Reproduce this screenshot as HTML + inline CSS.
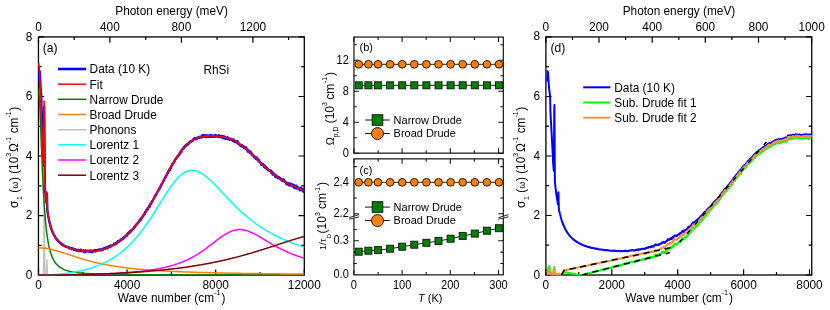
<!DOCTYPE html>
<html><head><meta charset="utf-8"><title>RhSi optical conductivity</title>
<style>
html,body{margin:0;padding:0;background:#fff}
svg{display:block;font-family:"Liberation Sans", sans-serif;will-change:transform}
</style></head><body>
<svg width="830" height="310" viewBox="0 0 830 310">
<rect width="830" height="310" fill="#fff"/>
<path d="M38.5,275.1v-5.7 M82.8,275.1v-3.1 M127.1,275.1v-5.7 M171.4,275.1v-3.1 M215.7,275.1v-5.7 M260,275.1v-3.1 M304.3,275.1v-5.7 M38.5,37v5.7 M74.2,37v3.1 M109.9,37v5.7 M145.7,37v3.1 M181.4,37v5.7 M217.1,37v3.1 M252.9,37v5.7 M288.6,37v3.1 M38.5,275.1h5.7 M304.3,275.1h-5.7 M38.5,245.3h3.1 M304.3,245.3h-3.1 M38.5,215.6h5.7 M304.3,215.6h-5.7 M38.5,185.8h3.1 M304.3,185.8h-3.1 M38.5,156h5.7 M304.3,156h-5.7 M38.5,126.3h3.1 M304.3,126.3h-3.1 M38.5,96.5h5.7 M304.3,96.5h-5.7 M38.5,66.7h3.1 M304.3,66.7h-3.1 M38.5,36.9h5.7 M304.3,36.9h-5.7" stroke="#000" stroke-width="1.2" fill="none"/>
<rect x="38.45" y="36.95" width="265.85" height="238.15" fill="none" stroke="#000" stroke-width="1.3"/>
<clipPath id="ca"><rect x="37.75" y="36.25" width="267.25" height="239.65"/></clipPath>
<g clip-path="url(#ca)" fill="none" stroke-linejoin="round">
<path d="M39.4,81.6L39.5,75.8L39.6,71.2L39.7,71.5L39.8,72.2L40,74.7L40.1,77.2L40.2,79.7L40.3,82.2L40.4,84.7L40.5,87.1L40.6,88.5L40.7,89.8L40.8,91.2L40.9,92.4L41.1,93.7L41.2,95.1L41.3,96.4L41.4,105.1L41.5,112.4L41.6,115.4L41.7,118.3L41.8,121.4L41.9,124.3L42,127.3L42.2,130.3L42.3,133.4L42.4,136.3L42.5,139.3L42.6,142.3L42.7,145.4L42.8,148.3L42.9,151.3L43,154.3L43.2,157.2L43.3,160.3L43.4,163.5L43.5,165.5L43.6,157.6L43.7,147.6L43.8,137.5L43.9,127.4L44,117.3L44.1,107L44.3,115.9L44.4,129.6L44.5,143L44.6,156.5L44.7,170L44.8,183.3L44.9,187.5L45,189L45.1,190.2L45.2,191.5L45.4,192.8L45.5,194L45.6,195.2L45.7,196.3L45.8,197.4L45.9,198.7L46,199.7L46.1,200.8L46.2,201.7L46.3,202.5L46.5,200.3L46.6,198.2L46.7,196L46.8,193.8L46.9,193.6L47,197.4L47.1,201.2L47.2,205.2L47.3,208.9L47.5,211.2L47.6,211.8L47.7,212.6L47.8,213.4L47.9,214.1L48,214.7L48.1,215.2L48.2,216L48.3,216.6L48.4,217.1L48.6,217.8L48.7,218.3L48.8,219L48.9,219.4L49,220L49.1,220.3L49.2,220.9L49.3,221.5L49.4,221.9L49.5,222.4L49.7,222.7L49.8,223.3L49.9,223.7L50,224.3L50.1,224.6L50.2,225.2L50.3,225.6L50.4,225.8L50.5,226.3L50.6,226.5L50.8,226.7L50.9,227.4L51,227.7L51.1,227.9L51.2,228.2L51.3,228.7L51.4,229L51.5,229.2L51.6,229.5L51.8,230L51.9,230.2L52,230.5L52.1,230.9L52.2,231L52.3,231.4L52.4,231.5L52.5,231.8L52.6,232.1L52.7,232.5L52.9,232.6L53,233.2L53.1,233.3L53.2,233.3L53.3,233.9L53.4,233.7L53.5,234.3L53.6,234.2L53.7,234.6L53.8,234.6L54,234.9L54.2,235.6L54.5,235.7L54.8,236.1L55,236.8L55.3,237.2L55.5,237.6L55.8,238.1L56.1,238.1L56.3,238.8L56.6,239L56.9,239.5L57.1,239.8L57.4,240.2L57.6,240.1L57.9,240.6L58.2,240.7L58.4,241.2L58.7,241.6L59,241.8L59.2,242.1L59.5,242.2L59.8,242.5L60,242.7L60.3,243.2L60.5,243.3L60.8,243L61.1,243.7L61.3,243.9L61.6,243.8L61.9,243.8L62.1,244.6L62.4,244.5L62.7,244.8L62.9,245.2L63.2,244.8L63.4,245.2L63.7,245.3L64,245.6L64.2,245.5L64.5,245.9L64.8,245.9L65,246.3L65.3,246.5L65.6,246L65.8,246.6L66.1,246.5L66.3,246.7L66.6,247L66.9,247.1L67.1,246.9L67.4,247.3L67.7,247.3L67.9,247.4L68.2,247.2L68.5,247.4L68.7,247.6L69,248L69.2,248.3L69.5,247.7L69.8,247.8L70,248.2L70.3,248.1L70.6,248.1L70.8,248.2L71.1,248.2L71.4,248.7L71.6,248.2L71.9,249.2L72.1,248.6L72.4,248.8L72.7,248.7L72.9,248.4L73.2,248.6L73.5,249.6L73.7,249.8L74,249L74.3,249.7L74.5,249.4L74.8,249.2L75,250.1L75.3,250.3L75.6,249.6L75.8,249.7L76.1,249.9L76.4,249.8L76.6,250.2L76.9,250.5L77.1,250L77.4,250.4L77.7,250.7L77.9,249.9L78.2,250.2L78.5,250.1L78.7,250.6L79,250.5L79.3,250.7L79.5,250.7L79.8,250.3L80,250.7L80.3,250.3L80.6,250.4L80.8,249.7L81.1,251.1L81.4,250.3L81.6,250.7L81.9,250.7L82.2,251.3L82.4,250.9L82.7,250.5L82.9,250.8L83.2,250.8L83.5,251L83.7,250.4L84,250.9L84.3,251.8L84.5,251.2L84.8,251.8L85.1,252.3L85.3,251.2L85.6,250.5L85.8,251L86.1,251.5L86.4,251.5L86.6,250.6L86.9,251L87.2,251.1L87.4,251.1L87.7,251.1L88,250.8L88.2,250.9L88.5,251L88.7,251.6L89,250.9L89.3,251.4L89.5,250.7L89.8,251.7L90.1,251.2L90.3,251.1L90.6,251.7L90.9,250.4L91.1,250.5L91.4,251.3L91.6,250.8L91.9,250.9L92.2,252.2L92.4,251L92.7,251.1L93,251L93.2,251.5L93.5,251.1L93.8,251L94,250.4L94.3,250.8L94.5,250.9L94.8,250.2L95.1,251.1L95.3,251L95.6,251.5L95.9,250.1L96.1,250.3L96.4,250.3L96.6,250.3L96.9,250.5L97.2,250.4L97.4,250.6L97.7,250.5L98,250.4L98.2,249.7L98.5,250.1L98.8,250.3L99,250.4L99.3,250.4L99.5,249.4L99.8,249.8L100.1,249.9L100.3,250L100.6,250.3L100.9,249.8L101.1,249.3L101.4,249.8L101.7,249.6L101.9,249.6L102.2,249.4L102.4,250L102.7,249.4L103,249.5L103.2,248.7L103.5,249.3L103.8,248.7L104,248.2L104.3,248.9L104.6,248.9L104.8,248.5L105.1,248.5L105.3,248.8L105.6,248.1L105.9,247.4L106.1,248.2L106.4,248.1L106.7,248.3L106.9,247.7L107.2,248.2L107.5,248.1L107.7,247L108,247.8L108.2,246.8L108.5,246.5L108.8,246.9L109,246.7L109.3,246L109.6,246.8L109.8,246.8L110.1,247L110.4,246.3L110.6,245.6L110.9,245.7L111.1,246.3L111.4,246.2L111.7,245.9L111.9,245.4L112.2,245.5L112.5,245.2L112.7,245L113,245.1L113.3,244.9L113.5,244.6L113.8,244.6L114,244.2L114.3,243.5L114.6,243.9L114.8,243.9L115.1,244.5L115.4,243.5L115.6,244.3L115.9,243.9L116.1,242.8L116.4,242.7L116.7,242.9L116.9,243.4L117.2,242.7L117.5,242.6L117.7,241.9L118,241L118.3,241.7L118.5,242L118.8,241.9L119,241.3L119.3,241.2L119.6,241.4L119.8,240.7L120.1,241L120.4,239.9L120.6,239.7L120.9,239.5L121.2,239.9L121.4,239.3L121.7,239.4L121.9,239.3L122.2,239.1L122.5,239.3L122.7,239.1L123,238L123.3,238.2L123.5,237.8L123.8,237.2L124.1,238.2L124.3,237.5L124.6,236.9L124.8,236.6L125.1,236.7L125.4,235.9L125.6,236L125.9,236.3L126.2,236L126.4,235L126.7,234.9L127,235.7L127.2,234.1L127.5,234.1L127.7,233.6L128,234L128.3,233.8L128.5,233.8L128.8,232.1L129.1,232.9L129.3,231.9L129.6,232.6L129.9,232L130.1,232.5L130.4,231.7L130.6,230.8L130.9,231.5L131.2,230.3L131.4,230.3L131.7,230.6L132,230.1L132.2,229.8L132.5,229.3L132.8,229.2L133,229L133.3,228.5L133.5,228.5L133.8,228.3L134.1,227.5L134.3,226.8L134.6,227.5L134.9,226.6L135.1,226.5L135.4,226.4L135.7,225.3L135.9,225.5L136.2,224.4L136.4,225L136.7,224.2L137,224.1L137.2,224L137.5,223.1L137.8,223.1L138,222.4L138.3,222.4L138.5,222.5L138.8,221.7L139.1,221.3L139.3,220.6L139.6,221L139.9,220.3L140.1,220.6L140.4,219.3L140.7,219.6L140.9,219.6L141.2,218.5L141.4,217.6L141.7,218.4L142,217.8L142.2,217.3L142.5,217.1L142.8,216.1L143,216.2L143.3,215.8L143.6,214.8L143.8,215L144.1,214.1L144.3,214.3L144.6,214L144.9,213.9L145.1,211.9L145.4,212.4L145.7,211.8L145.9,211.5L146.2,211L146.5,210.7L146.7,209.5L147,210.3L147.2,210.1L147.5,209.4L147.8,209.2L148,207.9L148.3,207.4L148.6,207.7L148.8,207.5L149.1,206.6L149.4,205.5L149.6,206.8L149.9,204.9L150.1,205.2L150.4,203.8L150.7,204.3L150.9,203.5L151.2,203.6L151.5,202.9L151.7,201.5L152,201.3L152.3,201.3L152.5,201.1L152.8,201L153,199.9L153.3,199.3L153.6,198.9L153.8,198.4L154.1,198.4L154.4,197.5L154.6,197L154.9,196L155.2,195.3L155.4,195.6L155.7,195.4L155.9,194.7L156.2,194.4L156.5,194L156.7,193.2L157,193.2L157.3,192L157.5,191.8L157.8,191.2L158,190.9L158.3,190.6L158.6,190.2L158.8,189.5L159.1,189.1L159.4,188.3L159.6,187.9L159.9,188L160.2,186.9L160.4,187L160.7,186.2L160.9,185.6L161.2,185.8L161.5,184.4L161.7,183.9L162,183.6L162.3,183.2L162.5,182.7L162.8,182.4L163.1,181.6L163.3,181.3L163.6,180.5L163.8,180.6L164.1,179.5L164.4,179L164.6,178.6L164.9,178.3L165.2,177.4L165.4,177.8L165.7,176.4L166,176L166.2,175.5L166.5,175L166.7,175L167,174.3L167.3,173.5L167.5,173.1L167.8,172.7L168.1,172.9L168.3,171.6L168.6,170.8L168.9,170.4L169.1,170.3L169.4,170.6L169.6,169L169.9,169L170.2,169.6L170.4,167.9L170.7,168.2L171,167.7L171.2,166.9L171.5,165.7L171.8,165.9L172,165.2L172.3,164.1L172.5,163.7L172.8,164L173.1,163.6L173.3,163.6L173.6,162.9L173.9,162L174.1,161.6L174.4,161.3L174.7,160.5L174.9,160.8L175.2,160.1L175.4,159.3L175.7,159L176,158.3L176.2,158.2L176.5,158.1L176.8,157.4L177,157.6L177.3,157.5L177.5,156.1L177.8,156L178.1,155.5L178.3,156L178.6,155L178.9,154.7L179.1,154.5L179.4,154.7L179.7,153.5L179.9,152.6L180.2,152.5L180.4,152.5L180.7,151.9L181,151.3L181.2,152.4L181.5,151L181.8,150.3L182,149.9L182.3,149.2L182.6,149.1L182.8,149.1L183.1,148.8L183.3,148.3L183.6,148.6L183.9,148L184.1,147.3L184.4,146.6L184.7,147.2L184.9,146.9L185.2,146.5L185.5,145.7L185.7,146L186,145.1L186.2,145.9L186.5,145.3L186.8,145.1L187,144.4L187.3,144L187.6,144.9L187.8,144.4L188.1,143.6L188.4,143.8L188.6,144L188.9,142.6L189.1,142.6L189.4,142.4L189.7,142.6L189.9,141.8L190.2,142.1L190.5,141.3L190.7,142L191,141.8L191.3,141.2L191.5,141.4L191.8,140.6L192,140.6L192.3,141L192.6,140.3L192.8,140.4L193.1,139.6L193.4,140.2L193.6,139.9L193.9,139L194.2,138.4L194.4,138.4L194.7,139.1L194.9,138.9L195.2,138.2L195.5,138.8L195.7,139.1L196,138.5L196.3,138.2L196.5,138.7L196.8,139L197,138.8L197.3,137.7L197.6,138.2L197.8,137.9L198.1,137.6L198.4,137.3L198.6,137.7L198.9,137.2L199.2,137.8L199.4,137.4L199.7,137.7L199.9,136.6L200.2,137.1L200.5,137.3L200.7,137.1L201,137L201.3,136.5L201.5,137.5L201.8,137.2L202.1,136.8L202.3,135.3L202.6,136.1L202.8,136.5L203.1,136.1L203.4,135.4L203.6,136.4L203.9,136.5L204.2,135.7L204.4,136L204.7,135.9L205,136.4L205.2,135.2L205.5,135.3L205.7,135.8L206,135.7L206.3,137L206.5,135.7L206.8,136.1L207.1,135.8L207.3,135.6L207.6,136.1L207.9,136.8L208.1,135.7L208.4,136.3L208.6,136.1L208.9,136.2L209.2,136L209.4,137L209.7,135.3L210,135.7L210.2,135.3L210.5,134.9L210.8,135.9L211,136.8L211.3,136.3L211.5,136.5L211.8,136.1L212.1,135.8L212.3,136.9L212.6,135.7L212.9,136.7L213.1,135.8L213.4,136L213.7,136.1L213.9,136L214.2,136.2L214.4,136.3L214.7,136.8L215,136L215.2,135.1L215.5,135L215.8,135.4L216,135.7L216.3,136.5L216.5,135.4L216.8,136.2L217.1,136.2L217.3,136.4L217.6,136.2L217.9,136.5L218.1,136.3L218.4,136.9L218.7,136.5L218.9,135.2L219.2,136.5L219.4,136.6L219.7,136.2L220,136.2L220.2,137.1L220.5,136.7L220.8,136.2L221,136.5L221.3,136.7L221.6,136L221.8,137.2L222.1,136.8L222.3,137.2L222.6,136.2L222.9,138L223.1,137.4L223.4,137.4L223.7,136.8L223.9,136.9L224.2,136.5L224.5,138.2L224.7,137L225,137.6L225.2,137.9L225.5,137.3L225.8,138.1L226,138.8L226.3,138L226.6,138.6L226.8,138.3L227.1,137.8L227.4,137.9L227.6,137.3L227.9,138.3L228.1,139.1L228.4,138.8L228.7,139L228.9,139.2L229.2,138.4L229.5,139.1L229.7,139.9L230,138.6L230.3,139.1L230.5,138.9L230.8,139.2L231,139L231.3,139.4L231.6,138.9L231.8,139.4L232.1,139.6L232.4,139.7L232.6,140.8L232.9,140.2L233.2,140.4L233.4,140.3L233.7,141.2L233.9,139.7L234.2,140.7L234.5,141.6L234.7,142L235,141.3L235.3,141.3L235.5,141.8L235.8,141.5L236,142.1L236.3,141.6L236.6,142.4L236.8,142.2L237.1,141.8L237.4,141.1L237.6,143.2L237.9,143.1L238.2,143.5L238.4,142.7L238.7,144L238.9,143.8L239.2,143.7L239.5,144.4L239.7,144.6L240,144.5L240.3,145.6L240.5,145.4L240.8,145L241.1,144.9L241.3,145.3L241.6,146.4L241.8,145.8L242.1,145.3L242.4,145.6L242.6,146.2L242.9,146.9L243.2,146.2L243.4,147.1L243.7,147.7L244,147.7L244.2,146.6L244.5,147.5L244.7,147.2L245,148.3L245.3,147.8L245.5,148.9L245.8,148.8L246.1,147.5L246.3,148.7L246.6,149.7L246.9,149.7L247.1,149.7L247.4,149.4L247.6,150.6L247.9,151.6L248.2,151L248.4,151.1L248.7,151.2L249,150.8L249.2,151.6L249.5,151.6L249.8,152.9L250,152L250.3,151.5L250.5,152.6L250.8,153.1L251.1,153.4L251.3,152.7L251.6,154.6L251.9,154.3L252.1,154.2L252.4,154.3L252.7,155.3L252.9,155.1L253.2,155.7L253.4,155.7L253.7,156.1L254,157L254.2,156.6L254.5,156.3L254.8,157.6L255,157.5L255.3,157.2L255.5,158.5L255.8,158L256.1,159L256.3,157.9L256.6,157.5L256.9,157.9L257.1,159.5L257.4,159.2L257.7,159.8L257.9,160.1L258.2,159.4L258.4,161.4L258.7,160.3L259,161.2L259.2,160.5L259.5,161.5L259.8,162.3L260,162L260.3,162L260.6,162.6L260.8,162.6L261.1,163.5L261.3,164.7L261.6,163.1L261.9,163.5L262.1,164.1L262.4,164.4L262.7,164L262.9,165.2L263.2,165.6L263.5,165.5L263.7,164.9L264,166.8L264.2,165.4L264.5,166.8L264.8,167.3L265,166.1L265.3,167.2L265.6,168.1L265.8,167.8L266.1,167.2L266.4,167.3L266.6,168.5L266.9,168.3L267.1,168.3L267.4,169.4L267.7,169L267.9,169.5L268.2,170L268.5,170.2L268.7,170.1L269,170.3L269.3,170.9L269.5,171.1L269.8,170.3L270,171.1L270.3,170.9L270.6,170.9L270.8,171.5L271.1,170.7L271.4,172.8L271.6,172L271.9,172.9L272.2,171.8L272.4,172.1L272.7,174.6L272.9,174.2L273.2,173.4L273.5,173.5L273.7,173.7L274,174.4L274.3,174.3L274.5,174.4L274.8,175L275,174.5L275.3,176.9L275.6,175.2L275.8,176.5L276.1,175.4L276.4,176.3L276.6,176.9L276.9,176.3L277.2,177.3L277.4,177.5L277.7,178.1L277.9,177.3L278.2,177.1L278.5,177L278.7,177.9L279,177.3L279.3,178.2L279.5,178.4L279.8,178.2L280.1,178L280.3,179.1L280.6,179.2L280.8,179.3L281.1,179.3L281.4,180.2L281.6,179.1L281.9,180.2L282.2,179.8L282.4,180.8L282.7,180.2L283,180.3L283.2,181L283.5,179.5L283.7,180.8L284,180L284.3,180.7L284.5,181.9L284.8,181.9L285.1,181.5L285.3,181.9L285.6,182.1L285.9,182.4L286.1,183.6L286.4,182.7L286.6,184.2L286.9,182.6L287.2,183.5L287.4,183.6L287.7,183.4L288,183.2L288.2,184.5L288.5,184.9L288.8,184.5L289,185.3L289.3,184.7L289.5,183.1L289.8,185.1L290.1,184L290.3,185.5L290.6,184.5L290.9,185.1L291.1,185L291.4,184.7L291.7,184.1L291.9,185.2L292.2,185.4L292.4,186.3L292.7,185.3L293,186L293.2,185.4L293.5,186.1L293.8,185L294,187.7L294.3,186.7L294.5,186L294.8,186.9L295.1,187.4L295.3,187.1L295.6,188L295.9,187.1L296.1,185.6L296.4,186.6L296.7,188.3L296.9,188.2L297.2,188L297.4,187.1L297.7,188.5L298,188.5L298.2,187.5L298.5,187.6L298.8,188.6L299,189.2L299.3,189.6L299.6,189.1L299.8,190.3L300.1,188.3L300.3,189.4L300.6,188.7L300.9,187.8L301.1,188.4L301.4,190.1L301.7,188.8L301.9,188.7L302.2,190.1L302.5,190.4L302.7,189.9L303,191L303.2,188.9L303.5,191.8L303.8,191L304,190.5L304.3,190.5" stroke="#0000ff" stroke-width="2.4"/>
<path d="M38.5,275.1L38.6,275.1L38.7,275.1L38.8,275.1L38.9,275.1L39,275.1L39.1,275.1L39.2,275.1L39.3,275.1L39.4,275.1L39.6,275.1L39.7,275.1L39.8,275.1L39.9,275.1L40,275.1L40.1,275.1L40.2,275.1L40.3,275.1L40.4,275.1L40.6,275.1L40.7,275.1L40.8,275.1L40.9,275.1L41,275.1L41.1,275.1L41.2,275.1L41.3,275.1L41.4,275.1L41.6,275.1L41.7,275.1L41.8,275.1L41.9,275.1L42,275.1L42.1,275.1L42.2,275.1L42.3,275.1L42.4,275.1L42.5,275.1L42.7,275.1L42.8,275.1L42.9,275.1L43,275.1L43.1,275.1L43.2,275.1L43.3,275.1L43.4,275.1L43.5,269.9L43.7,257L43.8,244.1L43.9,231.2L44,218.3L44.1,205.4L44.2,197.7L44.2,202.9L44.3,215.8L44.4,228.7L44.5,241.6L44.7,254.5L44.8,267.4L44.9,275.1L45,275.1L45.1,275.1L45.2,275.1L45.3,275.1L45.4,275.1L45.5,275.1L45.7,275.1L45.8,275.1L45.9,275.1L46,275.1L46.1,275.1L46.2,275.1L46.3,275.1L46.4,272.5L46.5,269.2L46.6,265.9L46.8,262.6L46.9,259.3L47,262.6L47.1,265.9L47.2,269.2L47.3,272.5L47.4,275.1L47.5,275.1L47.6,275.1L47.8,275.1L47.9,275.1L48,275.1L48.1,275.1L48.2,275.1L48.3,275.1L48.4,275.1L48.5,275.1L48.6,275.1L48.8,275.1L48.9,275.1L49,275.1L49.1,275.1L49.2,275.1L49.3,275.1L49.4,275.1L49.5,275.1L49.6,275.1L49.7,275.1L49.9,275.1L50,275.1L50.1,275.1L50.2,275.1L50.3,275.1L50.4,275.1L50.5,275.1L50.6,275.1L50.7,275.1L50.9,275.1L51,275.1L51.1,275.1L51.2,275.1L51.3,275.1L51.4,275.1L51.5,275.1L51.6,275.1L51.7,275.1L51.9,275.1L52,275.1L52.1,275.1L52.2,275.1L52.3,275.1L52.4,275.1L52.5,275.1L52.6,275.1L52.7,275.1L52.9,275.1L53,275.1L53.1,275.1L53.2,275.1L53.3,275.1L53.4,275.1L53.5,275.1L53.6,275.1L53.7,275.1L53.8,275.1L54,275.1L54.4,275.1L55,275.1L55.7,275.1" stroke="#c0c0c0" stroke-width="1.3"/>
<path d="M38.5,90.2L38.6,90.3L38.7,90.6L38.8,91.2L38.9,91.9L39,92.9L39.1,94.1L39.2,95.5L39.3,97L39.4,98.8L39.6,100.7L39.7,102.7L39.8,104.9L39.9,107.2L40,109.7L40.1,112.2L40.2,114.8L40.3,117.5L40.4,120.3L40.6,123.1L40.7,126L40.8,128.9L40.9,131.8L41,134.8L41.1,137.7L41.2,140.7L41.3,143.6L41.4,146.5L41.6,149.4L41.7,152.2L41.8,155.1L41.9,157.9L42,160.6L42.1,163.3L42.2,166L42.3,168.6L42.4,171.1L42.5,173.6L42.7,176.1L42.8,178.5L42.9,180.8L43,183.1L43.1,185.3L43.2,187.5L43.3,189.6L43.4,191.7L43.5,193.7L43.7,195.6L43.8,197.5L43.9,199.4L44,201.2L44.1,202.9L44.2,204L44.2,204.6L44.3,206.3L44.4,207.9L44.5,209.5L44.7,211L44.8,212.5L44.9,213.9L45,215.3L45.1,216.6L45.2,217.9L45.3,219.2L45.4,220.5L45.5,221.7L45.7,222.8L45.8,224L45.9,225.1L46,226.1L46.1,227.2L46.2,228.2L46.3,229.2L46.4,230.2L46.5,231.1L46.6,232L46.8,232.9L46.9,233.7L47,234.6L47.1,235.4L47.2,236.2L47.3,236.9L47.4,237.7L47.5,238.4L47.6,239.1L47.8,239.8L47.9,240.5L48,241.1L48.1,241.8L48.2,242.4L48.3,243L48.4,243.6L48.5,244.1L48.6,244.7L48.8,245.3L48.9,245.8L49,246.3L49.1,246.8L49.2,247.3L49.3,247.8L49.4,248.3L49.5,248.7L49.6,249.2L49.7,249.6L49.9,250L50,250.4L50.1,250.8L50.2,251.2L50.3,251.6L50.4,252L50.5,252.4L50.6,252.7L50.7,253.1L50.9,253.4L51,253.8L51.1,254.1L51.2,254.4L51.3,254.7L51.4,255.1L51.5,255.4L51.6,255.6L51.7,255.9L51.9,256.2L52,256.5L52.1,256.8L52.2,257L52.3,257.3L52.4,257.6L52.5,257.8L52.6,258L52.7,258.3L52.9,258.5L53,258.7L53.1,259L53.2,259.2L53.3,259.4L53.4,259.6L53.5,259.8L53.6,260L53.7,260.2L53.8,260.4L54,260.6L54.4,261.4L55,262.3L55.7,263.2L56.3,263.9L56.9,264.6L57.5,265.3L58.2,265.9L58.8,266.4L59.4,266.9L60,267.3L60.7,267.7L61.3,268.1L61.9,268.5L62.5,268.8L63.2,269.1L63.8,269.4L64.4,269.7L65,269.9L65.7,270.1L66.3,270.4L66.9,270.6L67.6,270.7L68.2,270.9L68.8,271.1L69.4,271.2L70.1,271.4L70.7,271.5L71.3,271.7L71.9,271.8L72.6,271.9L73.2,272L73.8,272.1L74.4,272.2L75.1,272.3L75.7,272.4L76.3,272.5L76.9,272.6L77.6,272.7L78.2,272.7L78.8,272.8L79.5,272.9L80.1,272.9L80.7,273L81.3,273.1L82,273.1L82.6,273.2L83.2,273.2L83.8,273.3L84.5,273.3L85.1,273.4L85.7,273.4L86.3,273.5L87,273.5L87.6,273.5L88.2,273.6L88.8,273.6L89.5,273.7L90.1,273.7L90.7,273.7L91.4,273.8L92,273.8L92.6,273.8L93.2,273.8L93.9,273.9L94.5,273.9L95.1,273.9L95.7,274L96.4,274L97,274L97.6,274L98.2,274L98.9,274.1L99.5,274.1L100.1,274.1L100.7,274.1L101.4,274.2L102,274.2L102.6,274.2L103.3,274.2L103.9,274.2L104.5,274.2L105.1,274.3L105.8,274.3L106.4,274.3L107,274.3L107.6,274.3L108.3,274.3L108.9,274.3L109.5,274.4L110.1,274.4L110.8,274.4L111.4,274.4L112,274.4L112.6,274.4L113.3,274.4L113.9,274.4L114.5,274.4L115.2,274.5L115.8,274.5L116.4,274.5L117,274.5L117.7,274.5L118.3,274.5L118.9,274.5L119.5,274.5L120.2,274.5L120.8,274.5L121.4,274.6L122,274.6L122.7,274.6L123.3,274.6L123.9,274.6L124.5,274.6L125.2,274.6L125.8,274.6L126.4,274.6L127.1,274.6L127.7,274.6L128.3,274.6L128.9,274.6L129.6,274.6L130.2,274.7L130.8,274.7L131.4,274.7L132.1,274.7L132.7,274.7L133.3,274.7L133.9,274.7L134.6,274.7L135.2,274.7L135.8,274.7L136.4,274.7L137.1,274.7L137.7,274.7L138.3,274.7L139,274.7L139.6,274.7L140.2,274.7L140.8,274.7L141.5,274.7L142.1,274.7L142.7,274.8L143.3,274.8L144,274.8L144.6,274.8L145.2,274.8L145.8,274.8L146.5,274.8L147.1,274.8L147.7,274.8L148.3,274.8L149,274.8L149.6,274.8L150.2,274.8L150.9,274.8L151.5,274.8L152.1,274.8L152.7,274.8L153.4,274.8L154,274.8L154.6,274.8L155.2,274.8L155.9,274.8L156.5,274.8L157.1,274.8L157.7,274.8L158.4,274.8L159,274.8L159.6,274.8L160.2,274.8L160.9,274.8L161.5,274.9L162.1,274.9L162.8,274.9L163.4,274.9L164,274.9L164.6,274.9L165.3,274.9L165.9,274.9L166.5,274.9L167.1,274.9L167.8,274.9L168.4,274.9L169,274.9L169.6,274.9L170.3,274.9L170.9,274.9L171.5,274.9L172.1,274.9L172.8,274.9L173.4,274.9L174,274.9L174.7,274.9L175.3,274.9L175.9,274.9L176.5,274.9L177.2,274.9L177.8,274.9L178.4,274.9L179,274.9L179.7,274.9L180.3,274.9L180.9,274.9L181.5,274.9L182.2,274.9L182.8,274.9L183.4,274.9L184,274.9L184.7,274.9L185.3,274.9L185.9,274.9L186.6,274.9L187.2,274.9L187.8,274.9L188.4,274.9L189.1,274.9L189.7,274.9L190.3,274.9L190.9,274.9L191.6,274.9L192.2,274.9L192.8,274.9L193.4,274.9L194.1,274.9L194.7,274.9L195.3,274.9L195.9,274.9L196.6,274.9L197.2,275L197.8,275L198.5,275L199.1,275L199.7,275L200.3,275L201,275L201.6,275L202.2,275L202.8,275L203.5,275L204.1,275L204.7,275L205.3,275L206,275L206.6,275L207.2,275L207.8,275L208.5,275L209.1,275L209.7,275L210.4,275L211,275L211.6,275L212.2,275L212.9,275L213.5,275L214.1,275L214.7,275L215.4,275L216,275L216.6,275L217.2,275L217.9,275L218.5,275L219.1,275L219.7,275L220.4,275L221,275L221.6,275L222.3,275L222.9,275L223.5,275L224.1,275L224.8,275L225.4,275L226,275L226.6,275L227.3,275L227.9,275L228.5,275L229.1,275L229.8,275L230.4,275L231,275L231.6,275L232.3,275L232.9,275L233.5,275L234.2,275L234.8,275L235.4,275L236,275L236.7,275L237.3,275L237.9,275L238.5,275L239.2,275L239.8,275L240.4,275L241,275L241.7,275L242.3,275L242.9,275L243.5,275L244.2,275L244.8,275L245.4,275L246.1,275L246.7,275L247.3,275L247.9,275L248.6,275L249.2,275L249.8,275L250.4,275L251.1,275L251.7,275L252.3,275L252.9,275L253.6,275L254.2,275L254.8,275L255.4,275L256.1,275L256.7,275L257.3,275L258,275L258.6,275L259.2,275L259.8,275L260.5,275L261.1,275L261.7,275L262.3,275L263,275L263.6,275L264.2,275L264.8,275L265.5,275L266.1,275L266.7,275L267.3,275L268,275L268.6,275L269.2,275L269.9,275L270.5,275L271.1,275L271.7,275L272.4,275L273,275L273.6,275L274.2,275L274.9,275L275.5,275L276.1,275L276.7,275L277.4,275L278,275L278.6,275L279.2,275L279.9,275L280.5,275L281.1,275L281.8,275L282.4,275L283,275L283.6,275L284.3,275L284.9,275L285.5,275L286.1,275L286.8,275L287.4,275L288,275L288.6,275L289.3,275L289.9,275L290.5,275L291.1,275L291.8,275L292.4,275L293,275L293.7,275L294.3,275L294.9,275L295.5,275L296.2,275L296.8,275L297.4,275L298,275L298.7,275L299.3,275L299.9,275L300.5,275L301.2,275L301.8,275L302.4,275L303,275L303.7,275L304.3,275" stroke="#008000" stroke-width="1.5"/>
<path d="M38.5,247.9L38.6,247.9L38.7,247.9L38.8,247.9L38.9,247.9L39,247.9L39.1,247.9L39.2,247.9L39.3,247.9L39.4,247.9L39.6,247.9L39.7,247.9L39.8,247.9L39.9,247.9L40,247.9L40.1,247.9L40.2,247.9L40.3,247.9L40.4,247.9L40.6,247.9L40.7,248L40.8,248L40.9,248L41,248L41.1,248L41.2,248L41.3,248L41.4,248L41.6,248L41.7,248L41.8,248L41.9,248L42,248L42.1,248L42.2,248L42.3,248L42.4,248.1L42.5,248.1L42.7,248.1L42.8,248.1L42.9,248.1L43,248.1L43.1,248.1L43.2,248.1L43.3,248.1L43.4,248.1L43.5,248.2L43.7,248.2L43.8,248.2L43.9,248.2L44,248.2L44.1,248.2L44.2,248.2L44.3,248.2L44.4,248.2L44.5,248.3L44.7,248.3L44.8,248.3L44.9,248.3L45,248.3L45.1,248.3L45.2,248.3L45.3,248.3L45.4,248.4L45.5,248.4L45.7,248.4L45.8,248.4L45.9,248.4L46,248.4L46.1,248.5L46.2,248.5L46.3,248.5L46.4,248.5L46.5,248.5L46.6,248.5L46.8,248.6L46.9,248.6L47,248.6L47.1,248.6L47.2,248.6L47.3,248.6L47.4,248.7L47.5,248.7L47.6,248.7L47.8,248.7L47.9,248.7L48,248.7L48.1,248.8L48.2,248.8L48.3,248.8L48.4,248.8L48.5,248.8L48.6,248.9L48.8,248.9L48.9,248.9L49,248.9L49.1,248.9L49.2,249L49.3,249L49.4,249L49.5,249L49.6,249.1L49.7,249.1L49.9,249.1L50,249.1L50.1,249.1L50.2,249.2L50.3,249.2L50.4,249.2L50.5,249.2L50.6,249.3L50.7,249.3L50.9,249.3L51,249.3L51.1,249.4L51.2,249.4L51.3,249.4L51.4,249.4L51.5,249.5L51.6,249.5L51.7,249.5L51.9,249.5L52,249.6L52.1,249.6L52.2,249.6L52.3,249.6L52.4,249.7L52.5,249.7L52.6,249.7L52.7,249.7L52.9,249.8L53,249.8L53.1,249.8L53.2,249.8L53.3,249.9L53.4,249.9L53.5,249.9L53.6,250L53.7,250L53.8,250L54,250L54.4,250.1L55,250.3L55.7,250.5L56.3,250.7L56.9,250.8L57.5,251L58.2,251.2L58.8,251.4L59.4,251.6L60,251.8L60.7,251.9L61.3,252.1L61.9,252.3L62.5,252.5L63.2,252.7L63.8,252.9L64.4,253.1L65,253.3L65.7,253.6L66.3,253.8L66.9,254L67.6,254.2L68.2,254.4L68.8,254.6L69.4,254.8L70.1,255L70.7,255.2L71.3,255.4L71.9,255.6L72.6,255.8L73.2,256L73.8,256.2L74.4,256.4L75.1,256.7L75.7,256.9L76.3,257.1L76.9,257.3L77.6,257.5L78.2,257.7L78.8,257.9L79.5,258L80.1,258.2L80.7,258.4L81.3,258.6L82,258.8L82.6,259L83.2,259.2L83.8,259.4L84.5,259.5L85.1,259.7L85.7,259.9L86.3,260.1L87,260.3L87.6,260.4L88.2,260.6L88.8,260.8L89.5,260.9L90.1,261.1L90.7,261.3L91.4,261.4L92,261.6L92.6,261.8L93.2,261.9L93.9,262.1L94.5,262.2L95.1,262.4L95.7,262.5L96.4,262.7L97,262.8L97.6,262.9L98.2,263.1L98.9,263.2L99.5,263.4L100.1,263.5L100.7,263.6L101.4,263.8L102,263.9L102.6,264L103.3,264.2L103.9,264.3L104.5,264.4L105.1,264.5L105.8,264.6L106.4,264.8L107,264.9L107.6,265L108.3,265.1L108.9,265.2L109.5,265.3L110.1,265.4L110.8,265.6L111.4,265.7L112,265.8L112.6,265.9L113.3,266L113.9,266.1L114.5,266.2L115.2,266.3L115.8,266.4L116.4,266.5L117,266.6L117.7,266.7L118.3,266.7L118.9,266.8L119.5,266.9L120.2,267L120.8,267.1L121.4,267.2L122,267.3L122.7,267.3L123.3,267.4L123.9,267.5L124.5,267.6L125.2,267.7L125.8,267.7L126.4,267.8L127.1,267.9L127.7,268L128.3,268L128.9,268.1L129.6,268.2L130.2,268.3L130.8,268.3L131.4,268.4L132.1,268.5L132.7,268.5L133.3,268.6L133.9,268.7L134.6,268.7L135.2,268.8L135.8,268.9L136.4,268.9L137.1,269L137.7,269L138.3,269.1L139,269.2L139.6,269.2L140.2,269.3L140.8,269.3L141.5,269.4L142.1,269.4L142.7,269.5L143.3,269.5L144,269.6L144.6,269.6L145.2,269.7L145.8,269.7L146.5,269.8L147.1,269.8L147.7,269.9L148.3,269.9L149,270L149.6,270L150.2,270.1L150.9,270.1L151.5,270.2L152.1,270.2L152.7,270.3L153.4,270.3L154,270.3L154.6,270.4L155.2,270.4L155.9,270.5L156.5,270.5L157.1,270.6L157.7,270.6L158.4,270.6L159,270.7L159.6,270.7L160.2,270.7L160.9,270.8L161.5,270.8L162.1,270.9L162.8,270.9L163.4,270.9L164,271L164.6,271L165.3,271L165.9,271.1L166.5,271.1L167.1,271.1L167.8,271.2L168.4,271.2L169,271.2L169.6,271.3L170.3,271.3L170.9,271.3L171.5,271.4L172.1,271.4L172.8,271.4L173.4,271.4L174,271.5L174.7,271.5L175.3,271.5L175.9,271.6L176.5,271.6L177.2,271.6L177.8,271.6L178.4,271.7L179,271.7L179.7,271.7L180.3,271.7L180.9,271.8L181.5,271.8L182.2,271.8L182.8,271.9L183.4,271.9L184,271.9L184.7,271.9L185.3,271.9L185.9,272L186.6,272L187.2,272L187.8,272L188.4,272.1L189.1,272.1L189.7,272.1L190.3,272.1L190.9,272.2L191.6,272.2L192.2,272.2L192.8,272.2L193.4,272.2L194.1,272.3L194.7,272.3L195.3,272.3L195.9,272.3L196.6,272.3L197.2,272.4L197.8,272.4L198.5,272.4L199.1,272.4L199.7,272.4L200.3,272.5L201,272.5L201.6,272.5L202.2,272.5L202.8,272.5L203.5,272.5L204.1,272.6L204.7,272.6L205.3,272.6L206,272.6L206.6,272.6L207.2,272.6L207.8,272.7L208.5,272.7L209.1,272.7L209.7,272.7L210.4,272.7L211,272.7L211.6,272.8L212.2,272.8L212.9,272.8L213.5,272.8L214.1,272.8L214.7,272.8L215.4,272.8L216,272.9L216.6,272.9L217.2,272.9L217.9,272.9L218.5,272.9L219.1,272.9L219.7,272.9L220.4,273L221,273L221.6,273L222.3,273L222.9,273L223.5,273L224.1,273L224.8,273.1L225.4,273.1L226,273.1L226.6,273.1L227.3,273.1L227.9,273.1L228.5,273.1L229.1,273.1L229.8,273.2L230.4,273.2L231,273.2L231.6,273.2L232.3,273.2L232.9,273.2L233.5,273.2L234.2,273.2L234.8,273.2L235.4,273.3L236,273.3L236.7,273.3L237.3,273.3L237.9,273.3L238.5,273.3L239.2,273.3L239.8,273.3L240.4,273.3L241,273.3L241.7,273.4L242.3,273.4L242.9,273.4L243.5,273.4L244.2,273.4L244.8,273.4L245.4,273.4L246.1,273.4L246.7,273.4L247.3,273.4L247.9,273.5L248.6,273.5L249.2,273.5L249.8,273.5L250.4,273.5L251.1,273.5L251.7,273.5L252.3,273.5L252.9,273.5L253.6,273.5L254.2,273.5L254.8,273.6L255.4,273.6L256.1,273.6L256.7,273.6L257.3,273.6L258,273.6L258.6,273.6L259.2,273.6L259.8,273.6L260.5,273.6L261.1,273.6L261.7,273.6L262.3,273.6L263,273.7L263.6,273.7L264.2,273.7L264.8,273.7L265.5,273.7L266.1,273.7L266.7,273.7L267.3,273.7L268,273.7L268.6,273.7L269.2,273.7L269.9,273.7L270.5,273.7L271.1,273.8L271.7,273.8L272.4,273.8L273,273.8L273.6,273.8L274.2,273.8L274.9,273.8L275.5,273.8L276.1,273.8L276.7,273.8L277.4,273.8L278,273.8L278.6,273.8L279.2,273.8L279.9,273.8L280.5,273.8L281.1,273.9L281.8,273.9L282.4,273.9L283,273.9L283.6,273.9L284.3,273.9L284.9,273.9L285.5,273.9L286.1,273.9L286.8,273.9L287.4,273.9L288,273.9L288.6,273.9L289.3,273.9L289.9,273.9L290.5,273.9L291.1,273.9L291.8,274L292.4,274L293,274L293.7,274L294.3,274L294.9,274L295.5,274L296.2,274L296.8,274L297.4,274L298,274L298.7,274L299.3,274L299.9,274L300.5,274L301.2,274L301.8,274L302.4,274L303,274L303.7,274L304.3,274.1" stroke="#ff8000" stroke-width="1.5"/>
<path d="M46,275L46.1,275L46.2,275L46.3,275L46.4,275L46.5,275L46.6,275L46.8,275L46.9,274.9L47,274.9L47.1,274.9L47.2,274.9L47.3,274.9L47.4,274.9L47.5,274.9L47.6,274.9L47.8,274.9L47.9,274.9L48,274.9L48.1,274.9L48.2,274.9L48.3,274.9L48.4,274.9L48.5,274.9L48.6,274.9L48.8,274.9L48.9,274.9L49,274.9L49.1,274.9L49.2,274.8L49.3,274.8L49.4,274.8L49.5,274.8L49.6,274.8L49.7,274.8L49.9,274.8L50,274.8L50.1,274.8L50.2,274.8L50.3,274.8L50.4,274.8L50.5,274.8L50.6,274.8L50.7,274.8L50.9,274.8L51,274.8L51.1,274.8L51.2,274.7L51.3,274.7L51.4,274.7L51.5,274.7L51.6,274.7L51.7,274.7L51.9,274.7L52,274.7L52.1,274.7L52.2,274.7L52.3,274.7L52.4,274.7L52.5,274.7L52.6,274.7L52.7,274.7L52.9,274.6L53,274.6L53.1,274.6L53.2,274.6L53.3,274.6L53.4,274.6L53.5,274.6L53.6,274.6L53.7,274.6L53.8,274.6L54,274.6L54.4,274.5L55,274.5L55.7,274.5L56.3,274.4L56.9,274.4L57.5,274.3L58.2,274.2L58.8,274.2L59.4,274.1L60,274.1L60.7,274L61.3,273.9L61.9,273.9L62.5,273.8L63.2,273.7L63.8,273.7L64.4,273.6L65,273.5L65.7,273.4L66.3,273.3L66.9,273.3L67.6,273.2L68.2,273.1L68.8,273L69.4,272.9L70.1,272.8L70.7,272.7L71.3,272.6L71.9,272.5L72.6,272.4L73.2,272.3L73.8,272.2L74.4,272.1L75.1,272L75.7,271.8L76.3,271.7L76.9,271.6L77.6,271.5L78.2,271.3L78.8,271.2L79.5,271.1L80.1,270.9L80.7,270.8L81.3,270.6L82,270.5L82.6,270.3L83.2,270.2L83.8,270L84.5,269.9L85.1,269.7L85.7,269.5L86.3,269.4L87,269.2L87.6,269L88.2,268.8L88.8,268.7L89.5,268.5L90.1,268.3L90.7,268.1L91.4,267.9L92,267.7L92.6,267.5L93.2,267.3L93.9,267L94.5,266.8L95.1,266.6L95.7,266.4L96.4,266.1L97,265.9L97.6,265.6L98.2,265.4L98.9,265.1L99.5,264.9L100.1,264.6L100.7,264.4L101.4,264.1L102,263.8L102.6,263.5L103.3,263.2L103.9,262.9L104.5,262.6L105.1,262.3L105.8,262L106.4,261.7L107,261.4L107.6,261.1L108.3,260.7L108.9,260.4L109.5,260L110.1,259.7L110.8,259.3L111.4,258.9L112,258.6L112.6,258.2L113.3,257.8L113.9,257.4L114.5,257L115.2,256.6L115.8,256.2L116.4,255.7L117,255.3L117.7,254.9L118.3,254.4L118.9,254L119.5,253.5L120.2,253L120.8,252.5L121.4,252.1L122,251.6L122.7,251.1L123.3,250.5L123.9,250L124.5,249.5L125.2,248.9L125.8,248.4L126.4,247.8L127.1,247.2L127.7,246.7L128.3,246.1L128.9,245.5L129.6,244.9L130.2,244.2L130.8,243.6L131.4,243L132.1,242.3L132.7,241.6L133.3,241L133.9,240.3L134.6,239.6L135.2,238.9L135.8,238.2L136.4,237.4L137.1,236.7L137.7,236L138.3,235.2L139,234.4L139.6,233.7L140.2,232.9L140.8,232.1L141.5,231.3L142.1,230.4L142.7,229.6L143.3,228.8L144,227.9L144.6,227L145.2,226.2L145.8,225.3L146.5,224.4L147.1,223.5L147.7,222.6L148.3,221.7L149,220.7L149.6,219.8L150.2,218.9L150.9,217.9L151.5,216.9L152.1,216L152.7,215L153.4,214L154,213L154.6,212L155.2,211L155.9,210L156.5,209L157.1,208L157.7,207L158.4,206L159,205L159.6,204L160.2,203L160.9,202L161.5,201L162.1,199.9L162.8,198.9L163.4,197.9L164,196.9L164.6,195.9L165.3,195L165.9,194L166.5,193L167.1,192L167.8,191.1L168.4,190.2L169,189.2L169.6,188.3L170.3,187.4L170.9,186.5L171.5,185.7L172.1,184.8L172.8,184L173.4,183.1L174,182.3L174.7,181.6L175.3,180.8L175.9,180.1L176.5,179.3L177.2,178.7L177.8,178L178.4,177.3L179,176.7L179.7,176.1L180.3,175.6L180.9,175L181.5,174.5L182.2,174L182.8,173.6L183.4,173.2L184,172.8L184.7,172.4L185.3,172.1L185.9,171.7L186.6,171.5L187.2,171.2L187.8,171L188.4,170.8L189.1,170.7L189.7,170.5L190.3,170.4L190.9,170.4L191.6,170.3L192.2,170.3L192.8,170.3L193.4,170.4L194.1,170.5L194.7,170.6L195.3,170.7L195.9,170.8L196.6,171L197.2,171.2L197.8,171.5L198.5,171.7L199.1,172L199.7,172.3L200.3,172.6L201,173L201.6,173.3L202.2,173.7L202.8,174.1L203.5,174.6L204.1,175L204.7,175.5L205.3,175.9L206,176.4L206.6,176.9L207.2,177.4L207.8,178L208.5,178.5L209.1,179.1L209.7,179.6L210.4,180.2L211,180.8L211.6,181.4L212.2,182L212.9,182.6L213.5,183.3L214.1,183.9L214.7,184.5L215.4,185.2L216,185.8L216.6,186.5L217.2,187.1L217.9,187.8L218.5,188.4L219.1,189.1L219.7,189.8L220.4,190.4L221,191.1L221.6,191.8L222.3,192.5L222.9,193.1L223.5,193.8L224.1,194.5L224.8,195.1L225.4,195.8L226,196.5L226.6,197.1L227.3,197.8L227.9,198.5L228.5,199.1L229.1,199.8L229.8,200.4L230.4,201.1L231,201.7L231.6,202.4L232.3,203L232.9,203.6L233.5,204.3L234.2,204.9L234.8,205.5L235.4,206.1L236,206.7L236.7,207.4L237.3,208L237.9,208.6L238.5,209.2L239.2,209.7L239.8,210.3L240.4,210.9L241,211.5L241.7,212.1L242.3,212.6L242.9,213.2L243.5,213.7L244.2,214.3L244.8,214.8L245.4,215.4L246.1,215.9L246.7,216.4L247.3,217L247.9,217.5L248.6,218L249.2,218.5L249.8,219L250.4,219.5L251.1,220L251.7,220.5L252.3,221L252.9,221.4L253.6,221.9L254.2,222.4L254.8,222.8L255.4,223.3L256.1,223.8L256.7,224.2L257.3,224.6L258,225.1L258.6,225.5L259.2,225.9L259.8,226.4L260.5,226.8L261.1,227.2L261.7,227.6L262.3,228L263,228.4L263.6,228.8L264.2,229.2L264.8,229.6L265.5,230L266.1,230.4L266.7,230.7L267.3,231.1L268,231.5L268.6,231.8L269.2,232.2L269.9,232.5L270.5,232.9L271.1,233.2L271.7,233.6L272.4,233.9L273,234.3L273.6,234.6L274.2,234.9L274.9,235.2L275.5,235.6L276.1,235.9L276.7,236.2L277.4,236.5L278,236.8L278.6,237.1L279.2,237.4L279.9,237.7L280.5,238L281.1,238.3L281.8,238.6L282.4,238.9L283,239.1L283.6,239.4L284.3,239.7L284.9,240L285.5,240.2L286.1,240.5L286.8,240.8L287.4,241L288,241.3L288.6,241.5L289.3,241.8L289.9,242L290.5,242.3L291.1,242.5L291.8,242.8L292.4,243L293,243.2L293.7,243.5L294.3,243.7L294.9,243.9L295.5,244.1L296.2,244.4L296.8,244.6L297.4,244.8L298,245L298.7,245.2L299.3,245.5L299.9,245.7L300.5,245.9L301.2,246.1L301.8,246.3L302.4,246.5L303,246.7L303.7,246.9L304.3,247.1" stroke="#00ffff" stroke-width="1.5"/>
<path d="M60.7,275L61.3,275L61.9,275L62.5,275L63.2,275L63.8,275L64.4,275L65,274.9L65.7,274.9L66.3,274.9L66.9,274.9L67.6,274.9L68.2,274.9L68.8,274.9L69.4,274.9L70.1,274.9L70.7,274.9L71.3,274.9L71.9,274.8L72.6,274.8L73.2,274.8L73.8,274.8L74.4,274.8L75.1,274.8L75.7,274.8L76.3,274.8L76.9,274.8L77.6,274.8L78.2,274.7L78.8,274.7L79.5,274.7L80.1,274.7L80.7,274.7L81.3,274.7L82,274.7L82.6,274.6L83.2,274.6L83.8,274.6L84.5,274.6L85.1,274.6L85.7,274.6L86.3,274.6L87,274.5L87.6,274.5L88.2,274.5L88.8,274.5L89.5,274.5L90.1,274.5L90.7,274.4L91.4,274.4L92,274.4L92.6,274.4L93.2,274.4L93.9,274.3L94.5,274.3L95.1,274.3L95.7,274.3L96.4,274.3L97,274.2L97.6,274.2L98.2,274.2L98.9,274.2L99.5,274.2L100.1,274.1L100.7,274.1L101.4,274.1L102,274.1L102.6,274L103.3,274L103.9,274L104.5,274L105.1,273.9L105.8,273.9L106.4,273.9L107,273.9L107.6,273.8L108.3,273.8L108.9,273.8L109.5,273.7L110.1,273.7L110.8,273.7L111.4,273.6L112,273.6L112.6,273.6L113.3,273.5L113.9,273.5L114.5,273.5L115.2,273.4L115.8,273.4L116.4,273.4L117,273.3L117.7,273.3L118.3,273.3L118.9,273.2L119.5,273.2L120.2,273.1L120.8,273.1L121.4,273.1L122,273L122.7,273L123.3,272.9L123.9,272.9L124.5,272.9L125.2,272.8L125.8,272.8L126.4,272.7L127.1,272.7L127.7,272.6L128.3,272.6L128.9,272.5L129.6,272.5L130.2,272.4L130.8,272.4L131.4,272.3L132.1,272.2L132.7,272.2L133.3,272.1L133.9,272.1L134.6,272L135.2,272L135.8,271.9L136.4,271.8L137.1,271.8L137.7,271.7L138.3,271.6L139,271.6L139.6,271.5L140.2,271.4L140.8,271.4L141.5,271.3L142.1,271.2L142.7,271.1L143.3,271.1L144,271L144.6,270.9L145.2,270.8L145.8,270.8L146.5,270.7L147.1,270.6L147.7,270.5L148.3,270.4L149,270.3L149.6,270.2L150.2,270.1L150.9,270L151.5,269.9L152.1,269.8L152.7,269.7L153.4,269.6L154,269.5L154.6,269.4L155.2,269.3L155.9,269.2L156.5,269.1L157.1,269L157.7,268.9L158.4,268.8L159,268.6L159.6,268.5L160.2,268.4L160.9,268.3L161.5,268.1L162.1,268L162.8,267.9L163.4,267.7L164,267.6L164.6,267.4L165.3,267.3L165.9,267.1L166.5,267L167.1,266.8L167.8,266.7L168.4,266.5L169,266.3L169.6,266.2L170.3,266L170.9,265.8L171.5,265.6L172.1,265.5L172.8,265.3L173.4,265.1L174,264.9L174.7,264.7L175.3,264.5L175.9,264.3L176.5,264.1L177.2,263.9L177.8,263.7L178.4,263.4L179,263.2L179.7,263L180.3,262.7L180.9,262.5L181.5,262.3L182.2,262L182.8,261.8L183.4,261.5L184,261.2L184.7,261L185.3,260.7L185.9,260.4L186.6,260.1L187.2,259.9L187.8,259.6L188.4,259.3L189.1,259L189.7,258.6L190.3,258.3L190.9,258L191.6,257.7L192.2,257.3L192.8,257L193.4,256.7L194.1,256.3L194.7,256L195.3,255.6L195.9,255.2L196.6,254.8L197.2,254.5L197.8,254.1L198.5,253.7L199.1,253.3L199.7,252.9L200.3,252.5L201,252.1L201.6,251.6L202.2,251.2L202.8,250.8L203.5,250.3L204.1,249.9L204.7,249.5L205.3,249L206,248.6L206.6,248.1L207.2,247.6L207.8,247.2L208.5,246.7L209.1,246.2L209.7,245.7L210.4,245.3L211,244.8L211.6,244.3L212.2,243.8L212.9,243.3L213.5,242.8L214.1,242.3L214.7,241.9L215.4,241.4L216,240.9L216.6,240.4L217.2,239.9L217.9,239.5L218.5,239L219.1,238.5L219.7,238L220.4,237.6L221,237.1L221.6,236.7L222.3,236.3L222.9,235.8L223.5,235.4L224.1,235L224.8,234.6L225.4,234.2L226,233.8L226.6,233.5L227.3,233.1L227.9,232.8L228.5,232.5L229.1,232.1L229.8,231.9L230.4,231.6L231,231.3L231.6,231.1L232.3,230.8L232.9,230.6L233.5,230.4L234.2,230.3L234.8,230.1L235.4,230L236,229.9L236.7,229.8L237.3,229.7L237.9,229.6L238.5,229.6L239.2,229.6L239.8,229.6L240.4,229.6L241,229.6L241.7,229.7L242.3,229.7L242.9,229.8L243.5,229.9L244.2,230L244.8,230.2L245.4,230.3L246.1,230.5L246.7,230.7L247.3,230.9L247.9,231.1L248.6,231.3L249.2,231.5L249.8,231.8L250.4,232.1L251.1,232.3L251.7,232.6L252.3,232.9L252.9,233.2L253.6,233.5L254.2,233.8L254.8,234.2L255.4,234.5L256.1,234.8L256.7,235.2L257.3,235.5L258,235.9L258.6,236.2L259.2,236.6L259.8,237L260.5,237.3L261.1,237.7L261.7,238.1L262.3,238.5L263,238.8L263.6,239.2L264.2,239.6L264.8,240L265.5,240.3L266.1,240.7L266.7,241.1L267.3,241.5L268,241.9L268.6,242.2L269.2,242.6L269.9,243L270.5,243.3L271.1,243.7L271.7,244.1L272.4,244.4L273,244.8L273.6,245.1L274.2,245.5L274.9,245.8L275.5,246.2L276.1,246.5L276.7,246.9L277.4,247.2L278,247.5L278.6,247.8L279.2,248.2L279.9,248.5L280.5,248.8L281.1,249.1L281.8,249.4L282.4,249.7L283,250L283.6,250.3L284.3,250.6L284.9,250.9L285.5,251.2L286.1,251.5L286.8,251.8L287.4,252L288,252.3L288.6,252.6L289.3,252.8L289.9,253.1L290.5,253.4L291.1,253.6L291.8,253.9L292.4,254.1L293,254.3L293.7,254.6L294.3,254.8L294.9,255L295.5,255.3L296.2,255.5L296.8,255.7L297.4,255.9L298,256.2L298.7,256.4L299.3,256.6L299.9,256.8L300.5,257L301.2,257.2L301.8,257.4L302.4,257.6L303,257.8L303.7,258L304.3,258.1" stroke="#ff00ff" stroke-width="1.5"/>
<path d="M38.5,275.1L38.6,275.1L38.7,275.1L38.8,275.1L38.9,275.1L39,275.1L39.1,275.1L39.2,275.1L39.3,275.1L39.4,275.1L39.6,275.1L39.7,275.1L39.8,275.1L39.9,275.1L40,275.1L40.1,275.1L40.2,275.1L40.3,275.1L40.4,275.1L40.6,275.1L40.7,275.1L40.8,275.1L40.9,275.1L41,275.1L41.1,275.1L41.2,275.1L41.3,275.1L41.4,275.1L41.6,275.1L41.7,275.1L41.8,275.1L41.9,275.1L42,275.1L42.1,275.1L42.2,275.1L42.3,275.1L42.4,275.1L42.5,275.1L42.7,275.1L42.8,275.1L42.9,275.1L43,275.1L43.1,275.1L43.2,275.1L43.3,275.1L43.4,275.1L43.5,275.1L43.7,275.1L43.8,275.1L43.9,275.1L44,275.1L44.1,275.1L44.2,275.1L44.3,275.1L44.4,275.1L44.5,275.1L44.7,275.1L44.8,275.1L44.9,275.1L45,275.1L45.1,275.1L45.2,275.1L45.3,275.1L45.4,275.1L45.5,275.1L45.7,275.1L45.8,275.1L45.9,275.1L46,275.1L46.1,275.1L46.2,275.1L46.3,275.1L46.4,275.1L46.5,275.1L46.6,275.1L46.8,275.1L46.9,275.1L47,275.1L47.1,275.1L47.2,275.1L47.3,275.1L47.4,275.1L47.5,275.1L47.6,275.1L47.8,275.1L47.9,275.1L48,275.1L48.1,275.1L48.2,275.1L48.3,275.1L48.4,275.1L48.5,275.1L48.6,275.1L48.8,275.1L48.9,275.1L49,275.1L49.1,275.1L49.2,275.1L49.3,275.1L49.4,275.1L49.5,275.1L49.6,275.1L49.7,275.1L49.9,275.1L50,275.1L50.1,275.1L50.2,275.1L50.3,275.1L50.4,275.1L50.5,275.1L50.6,275.1L50.7,275.1L50.9,275.1L51,275.1L51.1,275.1L51.2,275.1L51.3,275.1L51.4,275.1L51.5,275.1L51.6,275.1L51.7,275.1L51.9,275.1L52,275.1L52.1,275.1L52.2,275L52.3,275L52.4,275L52.5,275L52.6,275L52.7,275L52.9,275L53,275L53.1,275L53.2,275L53.3,275L53.4,275L53.5,275L53.6,275L53.7,275L53.8,275L54,275L54.4,275L55,275L55.7,275L56.3,275L56.9,275L57.5,275L58.2,275L58.8,275L59.4,275L60,275L60.7,275L61.3,275L61.9,275L62.5,274.9L63.2,274.9L63.8,274.9L64.4,274.9L65,274.9L65.7,274.9L66.3,274.9L66.9,274.9L67.6,274.9L68.2,274.9L68.8,274.9L69.4,274.8L70.1,274.8L70.7,274.8L71.3,274.8L71.9,274.8L72.6,274.8L73.2,274.8L73.8,274.8L74.4,274.8L75.1,274.7L75.7,274.7L76.3,274.7L76.9,274.7L77.6,274.7L78.2,274.7L78.8,274.7L79.5,274.6L80.1,274.6L80.7,274.6L81.3,274.6L82,274.6L82.6,274.6L83.2,274.6L83.8,274.5L84.5,274.5L85.1,274.5L85.7,274.5L86.3,274.5L87,274.5L87.6,274.4L88.2,274.4L88.8,274.4L89.5,274.4L90.1,274.4L90.7,274.3L91.4,274.3L92,274.3L92.6,274.3L93.2,274.3L93.9,274.2L94.5,274.2L95.1,274.2L95.7,274.2L96.4,274.2L97,274.1L97.6,274.1L98.2,274.1L98.9,274.1L99.5,274.1L100.1,274L100.7,274L101.4,274L102,274L102.6,273.9L103.3,273.9L103.9,273.9L104.5,273.9L105.1,273.8L105.8,273.8L106.4,273.8L107,273.8L107.6,273.7L108.3,273.7L108.9,273.7L109.5,273.7L110.1,273.6L110.8,273.6L111.4,273.6L112,273.5L112.6,273.5L113.3,273.5L113.9,273.5L114.5,273.4L115.2,273.4L115.8,273.4L116.4,273.3L117,273.3L117.7,273.3L118.3,273.2L118.9,273.2L119.5,273.2L120.2,273.1L120.8,273.1L121.4,273.1L122,273L122.7,273L123.3,273L123.9,272.9L124.5,272.9L125.2,272.9L125.8,272.8L126.4,272.8L127.1,272.8L127.7,272.7L128.3,272.7L128.9,272.6L129.6,272.6L130.2,272.6L130.8,272.5L131.4,272.5L132.1,272.5L132.7,272.4L133.3,272.4L133.9,272.3L134.6,272.3L135.2,272.2L135.8,272.2L136.4,272.2L137.1,272.1L137.7,272.1L138.3,272L139,272L139.6,271.9L140.2,271.9L140.8,271.9L141.5,271.8L142.1,271.8L142.7,271.7L143.3,271.7L144,271.6L144.6,271.6L145.2,271.5L145.8,271.5L146.5,271.4L147.1,271.4L147.7,271.3L148.3,271.3L149,271.2L149.6,271.2L150.2,271.1L150.9,271.1L151.5,271L152.1,270.9L152.7,270.9L153.4,270.8L154,270.8L154.6,270.7L155.2,270.7L155.9,270.6L156.5,270.6L157.1,270.5L157.7,270.4L158.4,270.4L159,270.3L159.6,270.3L160.2,270.2L160.9,270.1L161.5,270.1L162.1,270L162.8,269.9L163.4,269.9L164,269.8L164.6,269.8L165.3,269.7L165.9,269.6L166.5,269.6L167.1,269.5L167.8,269.4L168.4,269.3L169,269.3L169.6,269.2L170.3,269.1L170.9,269.1L171.5,269L172.1,268.9L172.8,268.8L173.4,268.8L174,268.7L174.7,268.6L175.3,268.5L175.9,268.5L176.5,268.4L177.2,268.3L177.8,268.2L178.4,268.2L179,268.1L179.7,268L180.3,267.9L180.9,267.8L181.5,267.8L182.2,267.7L182.8,267.6L183.4,267.5L184,267.4L184.7,267.3L185.3,267.2L185.9,267.2L186.6,267.1L187.2,267L187.8,266.9L188.4,266.8L189.1,266.7L189.7,266.6L190.3,266.5L190.9,266.4L191.6,266.3L192.2,266.2L192.8,266.1L193.4,266L194.1,265.9L194.7,265.8L195.3,265.7L195.9,265.6L196.6,265.5L197.2,265.4L197.8,265.3L198.5,265.2L199.1,265.1L199.7,265L200.3,264.9L201,264.8L201.6,264.7L202.2,264.6L202.8,264.5L203.5,264.4L204.1,264.2L204.7,264.1L205.3,264L206,263.9L206.6,263.8L207.2,263.7L207.8,263.6L208.5,263.4L209.1,263.3L209.7,263.2L210.4,263.1L211,263L211.6,262.8L212.2,262.7L212.9,262.6L213.5,262.5L214.1,262.3L214.7,262.2L215.4,262.1L216,261.9L216.6,261.8L217.2,261.7L217.9,261.5L218.5,261.4L219.1,261.3L219.7,261.1L220.4,261L221,260.9L221.6,260.7L222.3,260.6L222.9,260.4L223.5,260.3L224.1,260.2L224.8,260L225.4,259.9L226,259.7L226.6,259.6L227.3,259.4L227.9,259.3L228.5,259.1L229.1,259L229.8,258.8L230.4,258.7L231,258.5L231.6,258.4L232.3,258.2L232.9,258.1L233.5,257.9L234.2,257.7L234.8,257.6L235.4,257.4L236,257.3L236.7,257.1L237.3,256.9L237.9,256.8L238.5,256.6L239.2,256.4L239.8,256.3L240.4,256.1L241,255.9L241.7,255.7L242.3,255.6L242.9,255.4L243.5,255.2L244.2,255.1L244.8,254.9L245.4,254.7L246.1,254.5L246.7,254.3L247.3,254.2L247.9,254L248.6,253.8L249.2,253.6L249.8,253.4L250.4,253.3L251.1,253.1L251.7,252.9L252.3,252.7L252.9,252.5L253.6,252.3L254.2,252.1L254.8,251.9L255.4,251.8L256.1,251.6L256.7,251.4L257.3,251.2L258,251L258.6,250.8L259.2,250.6L259.8,250.4L260.5,250.2L261.1,250L261.7,249.8L262.3,249.6L263,249.4L263.6,249.2L264.2,249L264.8,248.8L265.5,248.6L266.1,248.4L266.7,248.2L267.3,248L268,247.8L268.6,247.6L269.2,247.4L269.9,247.2L270.5,247L271.1,246.8L271.7,246.6L272.4,246.4L273,246.2L273.6,246L274.2,245.8L274.9,245.6L275.5,245.4L276.1,245.2L276.7,244.9L277.4,244.7L278,244.5L278.6,244.3L279.2,244.1L279.9,243.9L280.5,243.7L281.1,243.5L281.8,243.3L282.4,243.1L283,242.9L283.6,242.7L284.3,242.5L284.9,242.3L285.5,242.1L286.1,241.9L286.8,241.7L287.4,241.5L288,241.3L288.6,241.1L289.3,240.9L289.9,240.7L290.5,240.5L291.1,240.3L291.8,240.1L292.4,239.9L293,239.7L293.7,239.5L294.3,239.3L294.9,239.1L295.5,239L296.2,238.8L296.8,238.6L297.4,238.4L298,238.2L298.7,238L299.3,237.8L299.9,237.7L300.5,237.5L301.2,237.3L301.8,237.1L302.4,237L303,236.8L303.7,236.6L304.3,236.4" stroke="#800000" stroke-width="1.5"/>
<path d="M38.5,63L38.6,63.1L38.7,63.4L38.8,64L38.9,64.7L39,65.7L39.1,66.9L39.2,68.3L39.3,69.8L39.4,71.6L39.6,73.5L39.7,75.5L39.8,77.7L39.9,80L40,82.5L40.1,85L40.2,87.6L40.3,90.4L40.4,93.1L40.6,96L40.7,98.8L40.8,101.7L40.9,104.7L41,107.6L41.1,110.6L41.2,113.5L41.3,116.4L41.4,119.4L41.6,122.3L41.7,125.1L41.8,128L41.9,130.7L42,133.5L42.1,136.2L42.2,138.9L42.3,141.5L42.4,144L42.5,146.5L42.7,149L42.8,151.4L42.9,153.7L43,156L43.1,158.3L43.2,160.4L43.3,162.6L43.4,164.6L43.5,161.6L43.7,150.7L43.8,139.9L43.9,129L44,118L44.1,107L44.2,100.4L44.2,106.2L44.3,120.6L44.4,135L44.5,149.3L44.7,163.6L44.8,177.9L44.9,187L45,188.4L45.1,189.7L45.2,191.1L45.3,192.3L45.4,193.6L45.5,194.8L45.7,196L45.8,197.1L45.9,198.3L46,199.3L46.1,200.4L46.2,201.4L46.3,202.4L46.4,200.8L46.5,198.5L46.6,196.1L46.8,193.8L46.9,191.4L47,195.5L47.1,199.6L47.2,203.6L47.3,207.7L47.4,211L47.5,211.8L47.6,212.5L47.8,213.2L47.9,213.9L48,214.5L48.1,215.2L48.2,215.8L48.3,216.4L48.4,217L48.5,217.6L48.6,218.2L48.8,218.8L48.9,219.3L49,219.8L49.1,220.4L49.2,220.9L49.3,221.4L49.4,221.8L49.5,222.3L49.6,222.8L49.7,223.2L49.9,223.7L50,224.1L50.1,224.5L50.2,224.9L50.3,225.3L50.4,225.7L50.5,226.1L50.6,226.5L50.7,226.9L50.9,227.2L51,227.6L51.1,227.9L51.2,228.3L51.3,228.6L51.4,228.9L51.5,229.2L51.6,229.6L51.7,229.9L51.9,230.2L52,230.5L52.1,230.7L52.2,231L52.3,231.3L52.4,231.6L52.5,231.8L52.6,232.1L52.7,232.4L52.9,232.6L53,232.9L53.1,233.1L53.2,233.3L53.3,233.6L53.4,233.8L53.5,234L53.6,234.3L53.7,234.5L53.8,234.7L54,234.9L54.4,235.7L55,236.8L55.7,237.7L56.3,238.6L56.9,239.4L57.5,240.2L58.2,240.9L58.8,241.5L59.4,242.1L60,242.7L60.7,243.2L61.3,243.7L61.9,244.1L62.5,244.6L63.2,245L63.8,245.4L64.4,245.7L65,246.1L65.7,246.4L66.3,246.7L66.9,247L67.6,247.2L68.2,247.5L68.8,247.7L69.4,248L70.1,248.2L70.7,248.4L71.3,248.6L71.9,248.8L72.6,249L73.2,249.1L73.8,249.3L74.4,249.4L75.1,249.6L75.7,249.7L76.3,249.8L76.9,249.9L77.6,250.1L78.2,250.2L78.8,250.3L79.5,250.4L80.1,250.4L80.7,250.5L81.3,250.6L82,250.7L82.6,250.8L83.2,250.8L83.8,250.9L84.5,250.9L85.1,251L85.7,251L86.3,251.1L87,251.1L87.6,251.1L88.2,251.1L88.8,251.1L89.5,251.1L90.1,251.1L90.7,251.1L91.4,251.1L92,251.1L92.6,251.1L93.2,251L93.9,251L94.5,250.9L95.1,250.8L95.7,250.7L96.4,250.7L97,250.6L97.6,250.5L98.2,250.3L98.9,250.2L99.5,250.1L100.1,249.9L100.7,249.8L101.4,249.6L102,249.5L102.6,249.3L103.3,249.1L103.9,248.9L104.5,248.7L105.1,248.5L105.8,248.3L106.4,248L107,247.8L107.6,247.5L108.3,247.3L108.9,247L109.5,246.7L110.1,246.4L110.8,246.1L111.4,245.8L112,245.5L112.6,245.2L113.3,244.8L113.9,244.5L114.5,244.1L115.2,243.8L115.8,243.4L116.4,243L117,242.6L117.7,242.2L118.3,241.8L118.9,241.4L119.5,240.9L120.2,240.5L120.8,240L121.4,239.5L122,239.1L122.7,238.6L123.3,238.1L123.9,237.5L124.5,237L125.2,236.5L125.8,235.9L126.4,235.4L127.1,234.8L127.7,234.2L128.3,233.6L128.9,233L129.6,232.4L130.2,231.7L130.8,231.1L131.4,230.4L132.1,229.7L132.7,229.1L133.3,228.4L133.9,227.6L134.6,226.9L135.2,226.2L135.8,225.4L136.4,224.7L137.1,223.9L137.7,223.1L138.3,222.3L139,221.5L139.6,220.6L140.2,219.8L140.8,218.9L141.5,218.1L142.1,217.2L142.7,216.3L143.3,215.4L144,214.5L144.6,213.5L145.2,212.6L145.8,211.6L146.5,210.7L147.1,209.7L147.7,208.7L148.3,207.7L149,206.7L149.6,205.6L150.2,204.6L150.9,203.5L151.5,202.5L152.1,201.4L152.7,200.3L153.4,199.2L154,198.1L154.6,197L155.2,195.9L155.9,194.8L156.5,193.6L157.1,192.5L157.7,191.4L158.4,190.2L159,189.1L159.6,187.9L160.2,186.7L160.9,185.6L161.5,184.4L162.1,183.3L162.8,182.1L163.4,180.9L164,179.8L164.6,178.6L165.3,177.4L165.9,176.3L166.5,175.1L167.1,174L167.8,172.8L168.4,171.7L169,170.6L169.6,169.4L170.3,168.3L170.9,167.2L171.5,166.1L172.1,165.1L172.8,164L173.4,162.9L174,161.9L174.7,160.9L175.3,159.9L175.9,158.9L176.5,157.9L177.2,157L177.8,156L178.4,155.1L179,154.2L179.7,153.3L180.3,152.5L180.9,151.7L181.5,150.8L182.2,150.1L182.8,149.3L183.4,148.6L184,147.8L184.7,147.1L185.3,146.5L185.9,145.8L186.6,145.2L187.2,144.6L187.8,144L188.4,143.5L189.1,142.9L189.7,142.4L190.3,141.9L190.9,141.5L191.6,141L192.2,140.6L192.8,140.2L193.4,139.9L194.1,139.5L194.7,139.2L195.3,138.9L195.9,138.6L196.6,138.3L197.2,138L197.8,137.8L198.5,137.6L199.1,137.4L199.7,137.2L200.3,137L201,136.9L201.6,136.7L202.2,136.6L202.8,136.5L203.5,136.4L204.1,136.3L204.7,136.2L205.3,136.1L206,136.1L206.6,136L207.2,136L207.8,135.9L208.5,135.9L209.1,135.9L209.7,135.9L210.4,135.9L211,135.9L211.6,135.9L212.2,135.9L212.9,135.9L213.5,135.9L214.1,136L214.7,136L215.4,136L216,136.1L216.6,136.1L217.2,136.2L217.9,136.3L218.5,136.3L219.1,136.4L219.7,136.5L220.4,136.6L221,136.7L221.6,136.8L222.3,136.9L222.9,137L223.5,137.1L224.1,137.3L224.8,137.4L225.4,137.5L226,137.7L226.6,137.9L227.3,138L227.9,138.2L228.5,138.4L229.1,138.6L229.8,138.9L230.4,139.1L231,139.3L231.6,139.6L232.3,139.8L232.9,140.1L233.5,140.4L234.2,140.7L234.8,141L235.4,141.4L236,141.7L236.7,142.1L237.3,142.5L237.9,142.8L238.5,143.2L239.2,143.6L239.8,144.1L240.4,144.5L241,145L241.7,145.4L242.3,145.9L242.9,146.4L243.5,146.9L244.2,147.4L244.8,147.9L245.4,148.4L246.1,149L246.7,149.5L247.3,150.1L247.9,150.6L248.6,151.2L249.2,151.8L249.8,152.3L250.4,152.9L251.1,153.5L251.7,154.1L252.3,154.7L252.9,155.3L253.6,155.9L254.2,156.5L254.8,157.1L255.4,157.7L256.1,158.3L256.7,158.9L257.3,159.6L258,160.2L258.6,160.8L259.2,161.4L259.8,162L260.5,162.6L261.1,163.2L261.7,163.8L262.3,164.4L263,164.9L263.6,165.5L264.2,166.1L264.8,166.7L265.5,167.3L266.1,167.8L266.7,168.4L267.3,168.9L268,169.5L268.6,170L269.2,170.5L269.9,171.1L270.5,171.6L271.1,172.1L271.7,172.6L272.4,173.1L273,173.6L273.6,174.1L274.2,174.6L274.9,175.1L275.5,175.5L276.1,176L276.7,176.4L277.4,176.9L278,177.3L278.6,177.8L279.2,178.2L279.9,178.6L280.5,179L281.1,179.4L281.8,179.8L282.4,180.2L283,180.6L283.6,181L284.3,181.3L284.9,181.7L285.5,182.1L286.1,182.4L286.8,182.8L287.4,183.1L288,183.4L288.6,183.8L289.3,184.1L289.9,184.4L290.5,184.7L291.1,185L291.8,185.3L292.4,185.6L293,185.9L293.7,186.2L294.3,186.5L294.9,186.7L295.5,187L296.2,187.3L296.8,187.5L297.4,187.8L298,188L298.7,188.3L299.3,188.5L299.9,188.8L300.5,189L301.2,189.2L301.8,189.5L302.4,189.7L303,189.9L303.7,190.1L304.3,190.4" stroke="#ff0000" stroke-width="1.6" stroke-linejoin="miter" stroke-miterlimit="8"/>
</g>
<g font-size="11.85" fill="#000">
<text x="38.5" y="288.7" text-anchor="middle">0</text>
<text x="127.1" y="288.7" text-anchor="middle">4000</text>
<text x="215.7" y="288.7" text-anchor="middle">8000</text>
<text x="304.3" y="288.7" text-anchor="middle">12000</text>
<text x="38.5" y="30.7" text-anchor="middle">0</text>
<text x="109.9" y="30.7" text-anchor="middle">400</text>
<text x="181.4" y="30.7" text-anchor="middle">800</text>
<text x="252.9" y="30.7" text-anchor="middle">1200</text>
<text x="32.4" y="278.9" text-anchor="end">0</text>
<text x="32.4" y="219.4" text-anchor="end">2</text>
<text x="32.4" y="159.8" text-anchor="end">4</text>
<text x="32.4" y="100.3" text-anchor="end">6</text>
<text x="32.4" y="40.7" text-anchor="end">8</text>
<text x="171.6" y="15.2" text-anchor="middle">Photon energy (meV)</text>
<text x="171.6" y="301.5" text-anchor="middle">Wave number (cm<tspan dy="-6.9" font-size="7.2">-1</tspan><tspan dy="6.9" dx="1">)</tspan></text>
<text transform="translate(18.0,208.0) rotate(-90)">σ<tspan dy="4.2" dx="0.65" font-size="7">1</tspan><tspan dy="-4.2"> (</tspan><tspan dx="0.5" font-size="8.6">ω</tspan><tspan dx="0.6">) (10</tspan><tspan dy="-7.3" font-size="7">3</tspan><tspan dy="7.3" dx="0.9">Ω</tspan><tspan dy="-7.3" font-size="7">-1</tspan><tspan dy="7.3" dx="0.2"> cm</tspan><tspan dy="-7.3" font-size="7">-1</tspan><tspan dy="7.3" dx="0.6">)</tspan></text>
<text x="42.8" y="51.9" font-size="12.1">(a)</text>
<text x="203.4" y="74.1">RhSi</text>
<path d="M58,69H86.2" stroke="#0000ff" stroke-width="2.6"/>
<text x="89.6" y="73.3">Data (10 K)</text>
<path d="M58,84.2H86.2" stroke="#ff0000" stroke-width="1.5"/>
<text x="89.6" y="88.5">Fit</text>
<path d="M58,99.3H86.2" stroke="#008000" stroke-width="1.5"/>
<text x="89.6" y="103.6">Narrow Drude</text>
<path d="M58,114.5H86.2" stroke="#ff8000" stroke-width="1.5"/>
<text x="89.6" y="118.8">Broad Drude</text>
<path d="M58,129.7H86.2" stroke="#c0c0c0" stroke-width="1.5"/>
<text x="89.6" y="134">Phonons</text>
<path d="M58,144.8H86.2" stroke="#00ffff" stroke-width="1.5"/>
<text x="89.6" y="149.2">Lorentz 1</text>
<path d="M58,160H86.2" stroke="#ff00ff" stroke-width="1.5"/>
<text x="89.6" y="164.3">Lorentz 2</text>
<path d="M58,175.2H86.2" stroke="#800000" stroke-width="1.5"/>
<text x="89.6" y="179.5">Lorentz 3</text>
</g>
<path d="M353.9,153.2v-5.0 M353.9,37v5.0 M353.9,274.9v-5.0 M353.9,158.8v5.0 M378.1,153.2v-2.9 M378.1,37v2.9 M378.1,274.9v-2.9 M378.1,158.8v2.9 M402.1,153.2v-5.0 M402.1,37v5.0 M402.1,274.9v-5.0 M402.1,158.8v5.0 M426.2,153.2v-2.9 M426.2,37v2.9 M426.2,274.9v-2.9 M426.2,158.8v2.9 M450.3,153.2v-5.0 M450.3,37v5.0 M450.3,274.9v-5.0 M450.3,158.8v5.0 M474.4,153.2v-2.9 M474.4,37v2.9 M474.4,274.9v-2.9 M474.4,158.8v2.9 M498.5,153.2v-5.0 M498.5,37v5.0 M498.5,274.9v-5.0 M498.5,158.8v5.0 M353.9,153.2h5.0 M503.3,153.2h-5.0 M353.9,137.7h2.9 M503.3,137.7h-2.9 M353.9,122.2h5.0 M503.3,122.2h-5.0 M353.9,106.7h2.9 M503.3,106.7h-2.9 M353.9,91.2h5.0 M503.3,91.2h-5.0 M353.9,75.7h2.9 M503.3,75.7h-2.9 M353.9,60.2h5.0 M503.3,60.2h-5.0 M353.9,44.7h2.9 M503.3,44.7h-2.9 M353.9,213.7h5.0 M503.3,213.7h-5.0 M353.9,198h2.9 M503.3,198h-2.9 M353.9,182.3h5.0 M503.3,182.3h-5.0 M353.9,166.6h2.9 M503.3,166.6h-2.9 M353.9,263.5h2.9 M503.3,263.5h-2.9 M353.9,252.1h2.9 M503.3,252.1h-2.9 M353.9,240.7h5.0 M503.3,240.7h-5.0 M353.9,229.4h2.9 M503.3,229.4h-2.9" stroke="#111" stroke-width="1.05" fill="none"/>
<rect x="353.95" y="37.05" width="149.35" height="116.1" fill="none" stroke="#111" stroke-width="1.2"/>
<rect x="353.95" y="158.85" width="149.35" height="116.0" fill="none" stroke="#111" stroke-width="1.2"/>
<path d="M351.4,217.8l5,-1.3" stroke="#fff" stroke-width="1.1" fill="none"/>
<path d="M349.1,217.6l10,-2.9M349.1,219.2l10,-2.4" stroke="#111" stroke-width="0.9" fill="none"/>
<path d="M500.8,217.8l5,-1.3" stroke="#fff" stroke-width="1.1" fill="none"/>
<path d="M498.4,217.6l10,-2.9M498.4,219.2l10,-2.4" stroke="#111" stroke-width="0.9" fill="none"/>
<path d="M358.7,64.3L368.4,64.3L378,64.3L390.1,64.3L402.2,64.3L414.3,64.3L426.4,64.3L438.5,64.3L450.6,64.3L462.7,64.3L474.8,64.3L486.9,64.3L499,64.3" stroke="#222" stroke-width="1" fill="none"/>
<path d="M358.7,85.3L368.4,85.3L378,85.3L390.1,85.3L402.2,85.3L414.3,85.3L426.4,85.3L438.5,85.3L450.6,85.3L462.7,85.3L474.8,85.3L486.9,85.3L499,85.3" stroke="#222" stroke-width="1" fill="none"/>
<g fill="#008000" stroke="#101a10" stroke-width="0.95"><rect x="355.2" y="81.8" width="7.0" height="7.0"/><rect x="364.9" y="81.8" width="7.0" height="7.0"/><rect x="374.5" y="81.8" width="7.0" height="7.0"/><rect x="386.6" y="81.8" width="7.0" height="7.0"/><rect x="398.7" y="81.8" width="7.0" height="7.0"/><rect x="410.8" y="81.8" width="7.0" height="7.0"/><rect x="422.9" y="81.8" width="7.0" height="7.0"/><rect x="435" y="81.8" width="7.0" height="7.0"/><rect x="447.1" y="81.8" width="7.0" height="7.0"/><rect x="459.2" y="81.8" width="7.0" height="7.0"/><rect x="471.3" y="81.8" width="7.0" height="7.0"/><rect x="483.4" y="81.8" width="7.0" height="7.0"/><rect x="495.5" y="81.8" width="7.0" height="7.0"/></g>
<g fill="#ff8000" stroke="#1c1008" stroke-width="0.95"><circle cx="358.7" cy="64.3" r="3.85"/><circle cx="368.4" cy="64.3" r="3.85"/><circle cx="378" cy="64.3" r="3.85"/><circle cx="390.1" cy="64.3" r="3.85"/><circle cx="402.2" cy="64.3" r="3.85"/><circle cx="414.3" cy="64.3" r="3.85"/><circle cx="426.4" cy="64.3" r="3.85"/><circle cx="438.5" cy="64.3" r="3.85"/><circle cx="450.6" cy="64.3" r="3.85"/><circle cx="462.7" cy="64.3" r="3.85"/><circle cx="474.8" cy="64.3" r="3.85"/><circle cx="486.9" cy="64.3" r="3.85"/><circle cx="499" cy="64.3" r="3.85"/></g>
<path d="M358.7,182.3L368.4,182.3L378,182.3L390.1,182.3L402.2,182.3L414.3,182.3L426.4,182.3L438.5,182.3L450.6,182.3L462.7,182.3L474.8,182.3L486.9,182.3L499,182.3" stroke="#222" stroke-width="1" fill="none"/>
<path d="M358.7,251.7L368.4,250.7L378,250.1L390.1,248.7L402.2,246.7L414.3,244.7L426.4,242.8L438.5,241L450.6,238.7L462.7,235.9L474.8,233.6L486.9,230.7L499,228.2" stroke="#222" stroke-width="1" fill="none"/>
<g fill="#008000" stroke="#101a10" stroke-width="0.95"><rect x="355.2" y="248.2" width="7.0" height="7.0"/><rect x="364.9" y="247.2" width="7.0" height="7.0"/><rect x="374.5" y="246.6" width="7.0" height="7.0"/><rect x="386.6" y="245.2" width="7.0" height="7.0"/><rect x="398.7" y="243.2" width="7.0" height="7.0"/><rect x="410.8" y="241.2" width="7.0" height="7.0"/><rect x="422.9" y="239.3" width="7.0" height="7.0"/><rect x="435" y="237.5" width="7.0" height="7.0"/><rect x="447.1" y="235.2" width="7.0" height="7.0"/><rect x="459.2" y="232.4" width="7.0" height="7.0"/><rect x="471.3" y="230.1" width="7.0" height="7.0"/><rect x="483.4" y="227.2" width="7.0" height="7.0"/><rect x="495.5" y="224.7" width="7.0" height="7.0"/></g>
<g fill="#ff8000" stroke="#1c1008" stroke-width="0.95"><circle cx="358.7" cy="182.3" r="3.85"/><circle cx="368.4" cy="182.3" r="3.85"/><circle cx="378" cy="182.3" r="3.85"/><circle cx="390.1" cy="182.3" r="3.85"/><circle cx="402.2" cy="182.3" r="3.85"/><circle cx="414.3" cy="182.3" r="3.85"/><circle cx="426.4" cy="182.3" r="3.85"/><circle cx="438.5" cy="182.3" r="3.85"/><circle cx="450.6" cy="182.3" r="3.85"/><circle cx="462.7" cy="182.3" r="3.85"/><circle cx="474.8" cy="182.3" r="3.85"/><circle cx="486.9" cy="182.3" r="3.85"/><circle cx="499" cy="182.3" r="3.85"/></g>
<g font-size="11.5" fill="#000">
<path d="M365,120H389.8" stroke="#111" stroke-width="1" fill="none"/><path d="M365,133.5H389.8" stroke="#111" stroke-width="1" fill="none"/>
<rect x="372.2" y="114.7" width="10.6" height="10.6" fill="#008000" stroke="#101a10" stroke-width="0.95"/>
<circle cx="377.5" cy="133.6" r="6" fill="#ff8000" stroke="#1c1008" stroke-width="0.95"/>
<text transform="translate(393.6,123.9) scale(0.955,1)">Narrow Drude</text>
<text transform="translate(393.6,137.4) scale(0.955,1)">Broad Drude</text>
<path d="M365,207.1H389.8" stroke="#111" stroke-width="1" fill="none"/><path d="M365,220.5H389.8" stroke="#111" stroke-width="1" fill="none"/>
<rect x="372.2" y="201.7" width="10.6" height="10.6" fill="#008000" stroke="#101a10" stroke-width="0.95"/>
<circle cx="377.5" cy="220.6" r="6" fill="#ff8000" stroke="#1c1008" stroke-width="0.95"/>
<text transform="translate(393.6,210.9) scale(0.955,1)">Narrow Drude</text>
<text transform="translate(393.6,224.4) scale(0.955,1)">Broad Drude</text>
<text font-size="12" transform="translate(348.8,156.7) scale(0.92,1)" text-anchor="end">0</text>
<text font-size="12" transform="translate(348.8,125.7) scale(0.92,1)" text-anchor="end">4</text>
<text font-size="12" transform="translate(348.8,94.7) scale(0.92,1)" text-anchor="end">8</text>
<text font-size="12" transform="translate(348.8,63.7) scale(0.92,1)" text-anchor="end">12</text>
<text font-size="12" transform="translate(348.8,185.8) scale(0.92,1)" text-anchor="end">2.4</text>
<text font-size="12" transform="translate(348.8,217.2) scale(0.92,1)" text-anchor="end">2.2</text>
<text font-size="12" transform="translate(348.8,244.2) scale(0.92,1)" text-anchor="end">0.3</text>
<text font-size="12" transform="translate(348.8,278.4) scale(0.92,1)" text-anchor="end">0.0</text>
<text font-size="12" transform="translate(353.9,288.7) scale(0.92,1)" text-anchor="middle">0</text>
<text font-size="12" transform="translate(402.1,288.7) scale(0.92,1)" text-anchor="middle">100</text>
<text font-size="12" transform="translate(450.3,288.7) scale(0.92,1)" text-anchor="middle">200</text>
<text font-size="12" transform="translate(498.5,288.7) scale(0.92,1)" text-anchor="middle">300</text>
<text transform="translate(430.2,301.6) scale(0.955,1)" text-anchor="middle"><tspan font-style="italic">T</tspan> (K)</text>
<text transform="translate(359.6,51.4) scale(0.955,1)">(b)</text>
<text transform="translate(359.6,173.6) scale(0.955,1)">(c)</text>
<text font-size="12" transform="translate(333.9,145.3) rotate(-90)"><tspan font-size="10.8">Ω</tspan><tspan dy="4.2" font-size="6.8">p,D</tspan><tspan dy="-4.2"> (10</tspan><tspan dy="-6.5" font-size="7">3</tspan><tspan dy="6.5" dx="2.3">cm</tspan><tspan dy="-6.5" dx="0.7" font-size="7">-1</tspan><tspan dy="6.5" dx="0.8">)</tspan></text>
<text font-size="12" transform="translate(326.1,250.2) rotate(-90)"><tspan font-size="9.5">1/τ</tspan><tspan dy="4.8" font-size="6.2">D</tspan><tspan dy="-4.8" dx="0.6">(10</tspan><tspan dy="-6.5" font-size="7">3</tspan><tspan dy="6.5" dx="3.1">cm</tspan><tspan dy="-6.5" font-size="7">-1</tspan><tspan dy="6.5" dx="0.8">)</tspan></text>
</g>
<path d="M545.9,275v-5.7 M578.8,275v-3.1 M611.8,275v-5.7 M644.7,275v-3.1 M677.7,275v-5.7 M710.6,275v-3.1 M743.6,275v-5.7 M776.5,275v-3.1 M809.5,275v-5.7 M545.9,37v5.7 M572.5,37v3.1 M599,37v5.7 M625.6,37v3.1 M652.2,37v5.7 M678.8,37v3.1 M705.3,37v5.7 M731.9,37v3.1 M758.5,37v5.7 M785,37v3.1 M811.6,37v5.7 M545.9,275h5.7 M811.8,275h-5.7 M545.9,245.2h3.1 M811.8,245.2h-3.1 M545.9,215.5h5.7 M811.8,215.5h-5.7 M545.9,185.7h3.1 M811.8,185.7h-3.1 M545.9,156h5.7 M811.8,156h-5.7 M545.9,126.2h3.1 M811.8,126.2h-3.1 M545.9,96.5h5.7 M811.8,96.5h-5.7 M545.9,66.7h3.1 M811.8,66.7h-3.1 M545.9,36.9h5.7 M811.8,36.9h-5.7" stroke="#000" stroke-width="1.2" fill="none"/>
<rect x="545.9" y="36.95" width="265.85" height="238.05" fill="none" stroke="#000" stroke-width="1.3"/>
<clipPath id="cd"><rect x="545.1999999999999" y="36.25" width="267.25" height="239.05"/></clipPath>
<g clip-path="url(#cd)" fill="none" stroke-linejoin="round">
<path d="M547.3,81.6L547.4,78.1L547.5,74.6L547.6,71.2L547.7,71.4L547.8,71.5L547.9,71.7L548,72.8L548.1,74.3L548.2,75.8L548.3,77.3L548.4,78.8L548.5,80.2L548.6,81.7L548.7,83.2L548.8,84.7L548.9,86.2L549,87.5L549.1,88.3L549.2,89.1L549.3,89.9L549.4,90.7L549.5,91.5L549.6,92.2L549.7,93L549.8,93.8L549.9,94.6L550,95.4L550.1,96.2L550.2,100.2L550.3,105.8L550.4,111.3L550.5,113.1L550.6,114.9L550.7,116.8L550.8,118.6L550.9,120.4L551,122.2L551.1,124L551.2,125.8L551.3,127.6L551.4,129.4L551.5,131.2L551.6,133L551.7,134.8L551.8,136.6L551.9,138.4L552,140.2L552.1,142L552.2,143.9L552.3,145.7L552.4,147.5L552.5,149.3L552.6,151.1L552.7,152.9L552.8,154.7L552.9,156.5L553,158.3L553,160.1L553.1,162.5L553.2,163.8L553.3,165L553.4,166.2L553.5,167.4L553.6,168.6L553.7,169.7L553.8,170.8L553.9,166.8L554,152.4L554.1,138L554.2,123.6L554.3,109.2L554.4,105L554.5,121.5L554.6,138L554.7,154.5L554.8,170.9L554.9,182.1L555,183.1L555.1,184L555.2,184.9L555.3,185.8L555.4,186.6L555.5,187.5L555.6,188.3L555.7,189.1L555.8,189.9L555.9,190.7L556,191.5L556.1,192.3L556.2,193.1L556.3,193.8L556.4,194.5L556.5,195.2L556.6,195.9L556.7,196.6L556.8,197.3L556.9,198L557,198.6L557.1,199.3L557.2,199.9L557.3,200.5L557.4,201.2L557.5,201.8L557.6,202.4L557.7,202.9L557.8,203.5L557.9,204.1L558,204.6L558.1,202.5L558.2,199.1L558.3,195.7L558.4,192.3L558.5,194.1L558.6,198.6L558.7,203L558.8,207.5L558.9,209.3L559,209.7L559.1,210.2L559.2,210.7L559.3,211.1L559.4,211.6L559.5,212L559.6,212.4L559.7,212.8L559.8,213.2L559.9,213.7L560,214.1L560.1,214.5L560.2,214.8L560.3,215.2L560.4,215.6L560.5,216L560.6,216.4L560.7,216.8L560.8,217.1L560.9,217.5L561,217.8L561.1,218.1L561.2,218.5L561.3,218.8L561.4,219.1L561.4,219.4L561.5,219.8L561.6,220.1L561.7,220.4L561.8,220.7L561.9,220.9L562,221.2L562.1,221.5L562.2,221.8L562.3,222.1L562.4,222.5L562.5,222.7L562.6,223L562.7,223.2L562.8,223.5L562.9,223.8L563,224L563.1,224.2L563.2,224.5L563.3,224.8L563.4,225L563.5,225.2L563.6,225.5L563.7,225.8L563.8,226L563.9,226.2L564,226.4L564.1,226.6L564.2,226.8L564.3,227.1L564.4,227.3L564.5,227.5L564.6,227.7L564.7,228L564.8,228.1L564.9,228.3L565,228.5L565.1,228.7L565.2,228.9L565.3,229.1L565.4,229.3L565.5,229.5L565.6,229.7L565.7,229.8L565.8,230L565.9,230.1L566,230.3L566.1,230.5L566.2,230.7L566.3,230.9L566.4,231L566.5,231.2L566.6,231.3L566.7,231.5L566.8,231.7L566.9,231.9L567,232L567.1,232.1L567.2,232.3L567.3,232.4L567.4,232.6L567.5,232.7L567.6,232.9L567.7,233.1L567.8,233.3L567.9,233.4L568,233.5L568.1,233.6L568.2,233.7L568.3,233.8L568.4,234L568.5,234.1L568.6,234.3L568.7,234.4L568.8,234.6L568.9,234.7L569,234.8L569.2,235.1L569.5,235.5L569.8,235.9L570.1,236.3L570.4,236.6L570.7,236.9L571,237.2L571.3,237.5L571.7,237.8L572,238.1L572.3,238.4L572.6,238.7L572.9,238.9L573.2,239.2L573.5,239.6L573.8,239.8L574.1,239.9L574.4,240.1L574.7,240.4L575,240.6L575.3,240.9L575.6,241L575.9,241.2L576.2,241.4L576.5,241.7L576.8,241.9L577.1,242L577.4,242.1L577.7,242.3L578,242.5L578.3,242.7L578.6,242.9L578.9,243.1L579.2,243.3L579.5,243.5L579.8,243.6L580.1,243.7L580.4,243.8L580.8,244L581.1,244.2L581.4,244.4L581.7,244.5L582,244.7L582.3,244.8L582.6,245L582.9,245.1L583.2,245.3L583.5,245.4L583.8,245.5L584.1,245.5L584.4,245.5L584.7,245.6L585,245.9L585.3,246L585.6,246L585.9,246.1L586.2,246.2L586.5,246.3L586.8,246.4L587.1,246.7L587.4,246.7L587.7,246.7L588,246.8L588.3,247L588.6,247.1L588.9,247.1L589.2,247.1L589.5,247.3L589.9,247.3L590.2,247.4L590.5,247.6L590.8,247.7L591.1,247.7L591.4,247.8L591.7,248L592,248L592.3,247.9L592.6,248L592.9,248.1L593.2,248.1L593.5,248.2L593.8,248.2L594.1,248.2L594.4,248.3L594.7,248.5L595,248.6L595.3,248.6L595.6,248.8L595.9,248.8L596.2,248.6L596.5,248.6L596.8,248.8L597.1,248.9L597.4,248.9L597.7,248.8L598,248.9L598.3,249.1L598.6,249.3L599,249.4L599.3,249.6L599.6,249.6L599.9,249.5L600.2,249.5L600.5,249.5L600.8,249.5L601.1,249.4L601.4,249.4L601.7,249.6L602,249.6L602.3,249.8L602.6,249.8L602.9,249.8L603.2,249.9L603.5,250L603.8,250.1L604.1,249.9L604.4,249.9L604.7,250L605,250.1L605.3,250.2L605.6,250.4L605.9,250.3L606.2,250L606.5,249.9L606.8,250.1L607.1,250.3L607.4,250.3L607.7,250.3L608.1,250.3L608.4,250.3L608.7,250.4L609,250.4L609.3,250.5L609.6,250.7L609.9,250.8L610.2,250.8L610.5,250.8L610.8,250.8L611.1,250.7L611.4,250.7L611.7,250.7L612,250.9L612.3,250.9L612.6,250.9L612.9,250.6L613.2,250.5L613.5,250.6L613.8,250.7L614.1,250.8L614.4,250.9L614.7,250.8L615,251L615.3,251.1L615.6,250.7L615.9,250.6L616.2,251L616.5,251L616.8,251L617.2,251.1L617.5,251.2L617.8,251.1L618.1,251L618.4,250.9L618.7,250.8L619,250.8L619.3,250.8L619.6,251L619.9,251.2L620.2,251.4L620.5,251.3L620.8,251L621.1,251.1L621.4,251.1L621.7,251.1L622,251.2L622.3,251.2L622.6,251.2L622.9,251.1L623.2,250.9L623.5,250.9L623.8,251.1L624.1,251.2L624.4,251.1L624.7,250.9L625,250.7L625.3,250.5L625.6,250.7L625.9,250.9L626.3,251.1L626.6,251.2L626.9,251.2L627.2,251.2L627.5,251.1L627.8,250.9L628.1,250.8L628.4,250.9L628.7,251L629,250.9L629.3,250.6L629.6,250.4L629.9,250.4L630.2,250.4L630.5,250.4L630.8,250.5L631.1,250.3L631.4,250.2L631.7,250.5L632,250.3L632.3,250.1L632.6,250.2L632.9,250.2L633.2,250.2L633.5,250.4L633.8,250.4L634.1,250.5L634.4,250.5L634.7,250.4L635,250.3L635.4,250.1L635.7,250.2L636,250.1L636.3,249.7L636.6,249.6L636.9,249.8L637.2,249.9L637.5,249.9L637.8,249.7L638.1,249.8L638.4,249.9L638.7,249.4L639,249.2L639.3,249.6L639.6,249.5L639.9,249.3L640.2,249.3L640.5,249.2L640.8,249.4L641.1,249.2L641.4,248.9L641.7,249.1L642,249.1L642.3,249.1L642.6,248.9L642.9,248.7L643.2,248.7L643.5,248.8L643.8,248.8L644.1,248.6L644.5,248.7L644.8,249L645.1,248.8L645.4,248.6L645.7,248.3L646,248L646.3,248.3L646.6,248.2L646.9,247.7L647.2,247.5L647.5,247.4L647.8,247.5L648.1,247.8L648.4,247.5L648.7,247L649,247L649.3,247.2L649.6,247.2L649.9,247.2L650.2,246.9L650.5,246.5L650.8,246.7L651.1,247.2L651.4,246.9L651.7,246.3L652,246.2L652.3,246.4L652.6,246.5L652.9,246.6L653.2,246.8L653.6,246.6L653.9,245.9L654.2,245.8L654.5,245.4L654.8,245L655.1,245.1L655.4,244.9L655.7,244.4L656,244.6L656.3,244.9L656.6,244.7L656.9,244.7L657.2,245L657.5,244.8L657.8,245L658.1,245.2L658.4,244.8L658.7,244.4L659,244.6L659.3,244.8L659.6,244.3L659.9,243.8L660.2,243.8L660.5,243.8L660.8,243.6L661.1,243.7L661.4,243.2L661.7,242.6L662,243L662.3,242.8L662.7,242.3L663,242.4L663.3,242.5L663.6,241.9L663.9,242L664.2,242.9L664.5,243L664.8,242.6L665.1,242.5L665.4,242.2L665.7,241.8L666,241.3L666.3,241.3L666.6,240.8L666.9,240.6L667.2,240.7L667.5,240.1L667.8,239.3L668.1,239.6L668.4,240.1L668.7,240.1L669,240L669.3,239.3L669.6,239L669.9,239.4L670.2,239L670.5,238.4L670.8,238.6L671.1,238.8L671.5,239L671.8,238.9L672.1,237.9L672.4,237L672.7,237.4L673,238L673.3,237.7L673.6,237.2L673.9,236.6L674.2,236.1L674.5,235.5L674.8,235.5L675.1,235.5L675.4,235.5L675.7,235.9L676,236.3L676.3,236L676.6,235.5L676.9,235.8L677.2,235.8L677.5,235L677.8,234.7L678.1,234.8L678.4,234.5L678.7,234.1L679,234L679.3,234.4L679.6,234.1L679.9,233.3L680.2,233L680.6,233.1L680.9,233.2L681.2,233L681.5,232.2L681.8,231.7L682.1,231.7L682.4,230.9L682.7,230.7L683,231L683.3,231.1L683.6,231.7L683.9,232L684.2,231.4L684.5,230.7L684.8,230.3L685.1,230L685.4,230L685.7,230.1L686,229.6L686.3,229.5L686.6,229.3L686.9,228.9L687.2,229.1L687.5,229L687.8,228.4L688.1,227.5L688.4,226.7L688.7,226.7L689,227.2L689.3,227.2L689.7,226.7L690,226.4L690.3,226.2L690.6,225.5L690.9,225.3L691.2,225.3L691.5,224.5L691.8,223.9L692.1,223.6L692.4,223.4L692.7,223.2L693,222.6L693.3,222.4L693.6,222.4L693.9,222.1L694.2,222L694.5,222.3L694.8,222.3L695.1,221.8L695.4,221.4L695.7,221.3L696,220.7L696.3,220.2L696.6,220.5L696.9,220.8L697.2,220L697.5,219.3L697.8,219.3L698.1,219.4L698.4,219.3L698.8,218.6L699.1,218L699.4,217.9L699.7,217.8L700,217.3L700.3,216.7L700.6,216.5L700.9,216.6L701.2,216L701.5,215.2L701.8,215.4L702.1,215.5L702.4,215.2L702.7,214.7L703,213.7L703.3,213.3L703.6,213.8L703.9,213.7L704.2,212.7L704.5,212L704.8,211.8L705.1,211.7L705.4,211.8L705.7,211.8L706,211.7L706.3,211.2L706.6,210.5L706.9,209.9L707.2,209.3L707.5,209.3L707.9,209.2L708.2,208.5L708.5,207.9L708.8,208L709.1,208.1L709.4,207.4L709.7,206.9L710,206.9L710.3,206.7L710.6,206.1L710.9,205.9L711.2,205.8L711.5,205.5L711.8,205.1L712.1,204.5L712.4,204L712.7,203.5L713,203.4L713.3,203.4L713.6,202.8L713.9,202.2L714.2,201.8L714.5,201.5L714.8,201.5L715.1,201.3L715.4,200.7L715.7,200.8L716,200.5L716.3,199.8L716.6,199.4L717,199.3L717.3,199.1L717.6,198.8L717.9,198.3L718.2,197.7L718.5,197.4L718.8,197.2L719.1,196.7L719.4,196.4L719.7,196L720,195.3L720.3,195.1L720.6,194.8L720.9,194.1L721.2,193.8L721.5,193.5L721.8,192.9L722.1,192.4L722.4,192.2L722.7,191.9L723,191.6L723.3,191.2L723.6,191L723.9,190.5L724.2,189.7L724.5,189.5L724.8,189.1L725.1,188.4L725.4,188.4L725.7,188.3L726.1,188L726.4,187.6L726.7,186.9L727,186.4L727.3,186.4L727.6,186.2L727.9,185.7L728.2,185.3L728.5,185L728.8,184.7L729.1,184.6L729.4,184.1L729.7,183.5L730,183L730.3,182.7L730.6,182.4L730.9,181.9L731.2,181.5L731.5,181.4L731.8,181.2L732.1,180.7L732.4,180.1L732.7,179.7L733,179.1L733.3,178.4L733.6,177.9L733.9,177.6L734.2,177.7L734.5,177.4L734.8,176.7L735.2,176.2L735.5,175.8L735.8,175.5L736.1,175L736.4,174.6L736.7,174.3L737,174L737.3,173.7L737.6,173.4L737.9,173L738.2,172.6L738.5,172.2L738.8,171.7L739.1,171.4L739.4,171.1L739.7,170.9L740,170.4L740.3,169.8L740.6,169.8L740.9,169.9L741.2,169.5L741.5,168.7L741.8,167.9L742.1,167.6L742.4,167.5L742.7,167.4L743,166.9L743.3,166.2L743.6,165.8L743.9,165.8L744.3,165.4L744.6,165.2L744.9,165.1L745.2,164.7L745.5,164.5L745.8,164.3L746.1,163.5L746.4,163L746.7,163L747,162.6L747.3,161.9L747.6,161.4L747.9,161L748.2,160.7L748.5,160.6L748.8,160.3L749.1,160.1L749.4,159.8L749.7,159.5L750,159L750.3,158.5L750.6,158.4L750.9,158.2L751.2,157.9L751.5,157.6L751.8,157.5L752.1,157.2L752.4,156.8L752.7,156.5L753,156.2L753.4,155.6L753.7,154.9L754,154.5L754.3,154.6L754.6,154.2L754.9,153.7L755.2,153.6L755.5,153.6L755.8,153.3L756.1,152.8L756.4,152.5L756.7,152.1L757,151.9L757.3,151.9L757.6,151.8L757.9,151.4L758.2,150.9L758.5,150.8L758.8,150.6L759.1,150.1L759.4,149.9L759.7,150.1L760,150.1L760.3,149.8L760.6,149.3L760.9,149L761.2,148.9L761.5,148.8L761.8,148.5L762.1,148.2L762.5,147.6L762.8,147.4L763.1,147.7L763.4,147.5L763.7,147L764,146.8L764.3,146.7L764.6,146.6L764.9,146.3L765.2,145.9L765.5,145.7L765.8,145.5L766.1,145.3L766.4,145.4L766.7,145.3L767,144.8L767.3,144.5L767.6,144.3L767.9,143.9L768.2,143.8L768.5,144.1L768.8,143.9L769.1,143.1L769.4,143L769.7,143.4L770,143.6L770.3,143.3L770.6,143.2L770.9,143.1L771.2,142.9L771.6,142.8L771.9,142.6L772.2,142.1L772.5,142L772.8,141.8L773.1,141.4L773.4,141.3L773.7,141.4L774,141.4L774.3,141.1L774.6,140.6L774.9,140.6L775.2,141L775.5,140.7L775.8,140.3L776.1,140L776.4,139.6L776.7,139.7L777,140.1L777.3,140.3L777.6,140.2L777.9,139.9L778.2,139.3L778.5,138.9L778.8,139.4L779.1,140.1L779.4,139.8L779.7,139.5L780,139.6L780.3,139.6L780.7,139.2L781,138.9L781.3,139L781.6,139L781.9,138.7L782.2,138.8L782.5,139L782.8,139.1L783.1,138.8L783.4,138.5L783.7,138.7L784,138.4L784.3,138.1L784.6,138.1L784.9,138.2L785.2,138.2L785.5,137.6L785.8,137.4L786.1,137.9L786.4,138.5L786.7,138.2L787,137.4L787.3,137.1L787.6,137.2L787.9,135.4L788.2,135.7L788.5,135.8L788.8,135.5L789.1,135.6L789.4,135.7L789.8,135.2L790.1,135.1L790.4,135.7L790.7,135.9L791,135.5L791.3,135.8L791.6,135.9L791.9,135.3L792.2,135.1L792.5,135L792.8,134.6L793.1,134.9L793.4,135.3L793.7,135.3L794,135.4L794.3,135.3L794.6,135.1L794.9,135.2L795.2,134.9L795.5,134.4L795.8,134.3L796.1,134.5L796.4,134.5L796.7,134.4L797,134.4L797.3,134.4L797.6,134.4L797.9,134.9L798.2,135.3L798.5,135.3L798.9,135.1L799.2,134.5L799.5,134.4L799.8,134.8L800.1,134.9L800.4,135L800.7,135.3L801,135.3L801.3,135.2L801.6,135.3L801.9,135L802.2,134.9L802.5,135.1L802.8,135.4L803.1,135.1L803.4,134.6L803.7,134.7L804,134.4L804.3,134.4L804.6,135L804.9,135.1L805.2,134.4L805.5,134.3L805.8,134.9L806.1,134.9L806.4,134.5L806.7,134.3L807,134.3L807.3,134.7L807.6,135L808,134.9L808.3,134.6L808.6,135.2L808.9,135.8L809.2,135.4L809.5,134.7L809.8,134.4L810.1,134.8L810.4,135L810.7,134.6L811,134.5L811.3,134.7L811.6,134.8" stroke="#0000ff" stroke-width="2"/>
<path d="M547.3,272.2L547.4,271.8L547.5,271.4L547.6,271.1L547.7,270.7L547.8,270.3L547.9,270L548,269.6L548.1,269.2L548.2,268.9L548.3,268.5L548.4,268.1L548.5,267.7L548.6,267.4L548.7,267L548.8,266.6L548.9,266.3L549,265.9L549.1,266L549.2,266.4L549.3,266.8L549.4,267.1L549.5,267.5L549.6,267.9L549.7,268.2L549.8,268.6L549.9,269L550,269.3L550.1,269.7L550.2,270.1L550.3,270.4L550.4,270.8L550.5,271.2L550.6,271.6L550.7,271.9L550.8,272.3L550.9,272.7L551,273L551.1,273.4L551.2,273.8L551.3,274.1L551.4,274.5L551.5,274.9L551.6,275L551.7,275L551.8,275L551.9,275L552,275L552.1,275L552.2,275L552.3,275L552.4,275L552.5,275L552.6,275L552.7,275L552.8,275L552.9,274.8L553,274.3L553,273.7L553.1,273.1L553.2,272.6L553.3,272L553.4,271.5L553.5,270.9L553.6,270.4L553.7,269.8L553.8,269.3L553.9,268.7L554,268.1L554.1,267.6L554.2,267L554.3,266.9L554.4,267.4L554.5,268L554.6,268.5L554.7,269.1L554.8,269.6L554.9,270.2L555,270.7L555.1,271.3L555.2,271.9L555.3,272.4L555.4,273L555.5,273.5L555.6,274.1L555.7,274.6L555.8,275L555.9,275L556,275L556.1,275L556.2,275L556.3,275L556.4,275L556.5,275L556.6,275L556.7,275L556.8,275L556.9,275L557,275L557.1,275L557.2,275L557.3,275L557.4,275L557.5,275L557.6,275L557.7,275L557.8,275L557.9,275L558,275L558.1,275L558.2,275L558.3,275L558.4,275L558.5,275L558.6,275L558.7,275L558.8,275L558.9,275L559,275L559.1,275L559.2,275L559.3,275L559.4,275L559.5,275L559.6,275L559.7,275L559.8,275L559.9,275L560,275L560.1,275L560.2,275L560.3,275L560.4,275L560.5,275L560.6,275L560.7,275L560.8,275L560.9,274.9L561,274.8L561.1,274.8L561.2,274.7L561.3,274.6L561.4,274.5L561.5,274.4L561.6,274.3L561.7,274.2L561.8,274.2L561.9,274.1L562,274L562.1,274L562.2,273.9L562.3,273.8L562.4,273.7L562.5,273.7L562.6,273.6L562.7,273.5L562.8,273.4L562.9,273.4L563,273.3L563.1,273.2L563.2,273.1L563.3,273.1L563.4,273L563.5,272.9L563.6,272.9L563.7,272.8L563.8,272.7L563.9,272.6L564,272.6L564.1,272.5L564.2,272.4L564.3,272.3L564.4,272.3L564.5,272.3L564.6,272.4L564.7,272.4L564.8,272.4L564.9,272.4L565,272.4L565.1,272.4L565.2,272.4L565.3,272.4L565.4,272.5L565.5,272.5L565.6,272.5L565.7,272.5L565.8,272.5L565.9,272.5L566,272.5L566.1,272.5L566.2,272.6L566.3,272.6L566.4,272.6L566.5,272.6L566.6,272.6L566.7,272.6L566.8,272.6L566.9,272.6L567,272.7L567.1,272.7L567.2,272.7L567.3,272.7L567.4,272.7L567.5,272.7L567.6,272.7L567.7,272.8L567.8,272.8L567.9,272.8L568,272.8L568.1,272.8L568.2,272.8L568.3,272.8L568.4,272.8L568.5,272.9L568.6,272.9L568.7,272.9L568.8,272.9L568.9,272.9L569,272.9L569.2,273L569.5,273L569.8,273.1L570.1,273.2L570.4,273.2L570.7,273.3L571,273.4L571.3,273.4L571.7,273.5L572,273.5L572.3,273.6L572.6,273.7L572.9,273.7L573.2,273.8L573.5,273.9L573.8,273.9L574.1,274L574.4,274.1L574.7,274.1L575,274.2L575.3,274.3L575.6,274.3L575.9,274.4L576.2,274.4L576.5,274.5L576.8,274.6L577.1,274.6L577.4,274.7L577.7,274.8L578,274.8L578.3,274.9L578.6,275L578.9,275L579.2,275L579.5,275L579.8,275L580.1,275L580.4,275L580.8,275L581.1,275L581.4,275L581.7,275L582,275L582.3,275L582.6,275L582.9,274.9L583.2,274.9L583.5,274.8L583.8,274.7L584.1,274.5L584.4,274.3L584.7,274.2L585,274.3L585.3,274.2L585.6,274L585.9,274L586.2,273.9L586.5,273.7L586.8,273.8L587.1,273.8L587.4,273.7L587.7,273.5L588,273.5L588.3,273.5L588.6,273.4L588.9,273.2L589.2,273.1L589.5,273.1L589.9,272.9L590.2,272.9L590.5,273L590.8,272.8L591.1,272.7L591.4,272.7L591.7,272.7L592,272.5L592.3,272.2L592.6,272.2L592.9,272.2L593.2,272.1L593.5,272L593.8,271.9L594.1,271.7L594.4,271.7L594.7,271.7L595,271.7L595.3,271.6L595.6,271.7L595.9,271.6L596.2,271.2L596.5,271L596.8,271L597.1,271.1L597.4,270.9L597.7,270.7L598,270.7L598.3,270.8L598.6,270.9L599,270.9L599.3,270.9L599.6,270.8L599.9,270.6L600.2,270.5L600.5,270.4L600.8,270.1L601.1,269.8L601.4,269.8L601.7,269.8L602,269.8L602.3,269.9L602.6,269.8L602.9,269.6L603.2,269.7L603.5,269.7L603.8,269.6L604.1,269.3L604.4,269.1L604.7,269.2L605,269.2L605.3,269.2L605.6,269.2L605.9,269L606.2,268.6L606.5,268.3L606.8,268.5L607.1,268.6L607.4,268.5L607.7,268.4L608.1,268.2L608.4,268.2L608.7,268.1L609,268.1L609.3,268.1L609.6,268.2L609.9,268.2L610.2,268.1L610.5,268L610.8,267.8L611.1,267.7L611.4,267.5L611.7,267.5L612,267.6L612.3,267.6L612.6,267.3L612.9,266.9L613.2,266.7L613.5,266.7L613.8,266.8L614.1,266.7L614.4,266.7L614.7,266.6L615,266.8L615.3,266.8L615.6,266.1L615.9,266L616.2,266.3L616.5,266.3L616.8,266.1L617.2,266.2L617.5,266.2L617.8,266.1L618.1,265.8L618.4,265.5L618.7,265.4L619,265.3L619.3,265.1L619.6,265.3L619.9,265.5L620.2,265.7L620.5,265.4L620.8,265.1L621.1,265L621.4,264.9L621.7,264.9L622,265L622.3,264.9L622.6,264.8L622.9,264.6L623.2,264.3L623.5,264.3L623.8,264.5L624.1,264.4L624.4,264.2L624.7,264L625,263.6L625.3,263.3L625.6,263.5L625.9,263.7L626.3,263.8L626.6,263.9L626.9,263.9L627.2,263.8L627.5,263.6L627.8,263.4L628.1,263.2L628.4,263.2L628.7,263.3L629,263.1L629.3,262.7L629.6,262.4L629.9,262.3L630.2,262.2L630.5,262.3L630.8,262.4L631.1,262.1L631.4,261.9L631.7,262.2L632,262L632.3,261.6L632.6,261.7L632.9,261.7L633.2,261.7L633.5,261.8L633.8,261.9L634.1,261.9L634.4,261.9L634.7,261.8L635,261.6L635.4,261.3L635.7,261.4L636,261.3L636.3,260.7L636.6,260.5L636.9,260.8L637.2,260.9L637.5,260.9L637.8,260.6L638.1,260.7L638.4,260.9L638.7,260.2L639,259.9L639.3,260.4L639.6,260.3L639.9,260L640.2,260L640.5,259.9L640.8,260.1L641.1,259.9L641.4,259.5L641.7,259.7L642,259.8L642.3,259.7L642.6,259.4L642.9,259.2L643.2,259.3L643.5,259.4L643.8,259.4L644.1,259.2L644.5,259.3L644.8,259.7L645.1,259.4L645.4,259.2L645.7,258.8L646,258.5L646.3,258.9L646.6,258.8L646.9,258.2L647.2,257.9L647.5,257.8L647.8,258L648.1,258.4L648.4,258L648.7,257.4L649,257.4L649.3,257.7L649.6,257.8L649.9,257.8L650.2,257.5L650.5,256.9L650.8,257.3L651.1,257.9L651.4,257.6L651.7,256.9L652,256.8L652.3,257.1L652.6,257.3L652.9,257.3L653.2,257.7L653.6,257.3L653.9,256.5L654.2,256.3L654.5,255.9L654.8,255.3L655.1,255.4L655.4,255.2L655.7,254.5L656,254.8L656.3,255.3L656.6,254.9L656.9,255L657.2,255.3L657.5,255.1L657.8,255.3L658.1,255.7L658.4,255.1L658.7,254.6L659,254.9L659.3,255.1L659.6,254.5L659.9,253.8L660.2,253.8L660.5,253.8L660.8,253.5L661.1,253.7L661.4,253L661.7,252.3L662,252.8L662.3,252.7L662.7,251.9L663,252.1L663.3,252.2L663.6,251.5L663.9,251.6L664.2,252.8L664.5,252.9L664.8,252.4L665.1,252.3L665.4,252L665.7,251.4L666,250.8L666.3,250.7L666.6,250.2L666.9,249.9L667.2,250.1L667.5,249.2L667.8,248.2L668.1,248.7L668.4,249.4L668.7,249.4L669,249.2L669.3,248.4L669.6,248L669.9,248.5L670.2,248L670.5,247.3L670.8,247.5L671.1,247.8L671.5,248L671.8,248L672.1,246.7L672.4,245.6L672.7,246.2L673,246.9L673.3,246.6L673.6,245.9L673.9,245.2L674.2,244.5L674.5,243.8L674.8,243.8L675.1,243.7L675.4,243.7L675.7,244.3L676,244.8L676.3,244.4L676.6,243.8L676.9,244.3L677.2,244.3L677.5,243.2L677.8,242.8L678.1,243L678.4,242.6L678.7,242.1L679,242L679.3,242.5L679.6,242.2L679.9,241.1L680.2,240.8L680.6,240.9L680.9,241.1L681.2,240.8L681.5,239.8L681.8,239.2L682.1,239.2L682.4,238.2L682.7,238L683,238.4L683.3,238.4L683.6,239.3L683.9,239.7L684.2,239L684.5,238.1L684.8,237.5L685.1,237.2L685.4,237.3L685.7,237.4L686,236.8L686.3,236.6L686.6,236.4L686.9,236L687.2,236.2L687.5,236.1L687.8,235.4L688.1,234.2L688.4,233.3L688.7,233.3L689,233.9L689.3,234L689.7,233.3L690,233L690.3,232.8L690.6,231.8L690.9,231.7L691.2,231.7L691.5,230.7L691.8,229.9L692.1,229.6L692.4,229.3L692.7,229.1L693,228.4L693.3,228.2L693.6,228.2L693.9,227.8L694.2,227.8L694.5,228.1L694.8,228.2L695.1,227.5L695.4,227L695.7,227L696,226.3L696.3,225.7L696.6,226.1L696.9,226.5L697.2,225.6L697.5,224.7L697.8,224.7L698.1,224.9L698.4,224.8L698.8,223.9L699.1,223.1L699.4,223L699.7,223L700,222.4L700.3,221.6L700.6,221.4L700.9,221.6L701.2,220.9L701.5,219.9L701.8,220.2L702.1,220.4L702.4,220L702.7,219.4L703,218.2L703.3,217.7L703.6,218.4L703.9,218.4L704.2,217.1L704.5,216.3L704.8,216L705.1,215.9L705.4,216.2L705.7,216.2L706,216.1L706.3,215.5L706.6,214.6L706.9,213.9L707.2,213.2L707.5,213.2L707.9,213.2L708.2,212.3L708.5,211.6L708.8,211.8L709.1,211.9L709.4,211.1L709.7,210.5L710,210.6L710.3,210.3L710.6,209.6L710.9,209.4L711.2,209.5L711.5,209.2L711.8,208.7L712.1,208.1L712.4,207.5L712.7,206.9L713,206.9L713.3,207L713.6,206.3L713.9,205.6L714.2,205.2L714.5,205L714.8,205.1L715.1,204.8L715.4,204.3L715.7,204.4L716,204.2L716.3,203.3L716.6,202.9L717,202.9L717.3,202.8L717.6,202.6L717.9,202L718.2,201.3L718.5,201L718.8,200.8L719.1,200.2L719.4,200L719.7,199.6L720,198.8L720.3,198.6L720.6,198.3L720.9,197.5L721.2,197.3L721.5,197L721.8,196.3L722.1,195.9L722.4,195.6L722.7,195.4L723,195L723.3,194.6L723.6,194.5L723.9,193.9L724.2,193.1L724.5,192.8L724.8,192.5L725.1,191.7L725.4,191.8L725.7,191.8L726.1,191.4L726.4,191.1L726.7,190.3L727,189.8L727.3,189.9L727.6,189.7L727.9,189.1L728.2,188.8L728.5,188.5L728.8,188.2L729.1,188.2L729.4,187.7L729.7,187L730,186.5L730.3,186.2L730.6,185.9L730.9,185.3L731.2,185L731.5,185L731.8,184.8L732.1,184.3L732.4,183.6L732.7,183.2L733,182.6L733.3,181.7L733.6,181.1L733.9,180.9L734.2,181.1L734.5,180.9L734.8,180.1L735.2,179.5L735.5,179.2L735.8,178.8L736.1,178.3L736.4,177.9L736.7,177.6L737,177.4L737.3,177.1L737.6,176.8L737.9,176.3L738.2,175.9L738.5,175.6L738.8,175L739.1,174.7L739.4,174.4L739.7,174.2L740,173.7L740.3,173.1L740.6,173.2L740.9,173.4L741.2,173L741.5,172L741.8,171.1L742.1,170.9L742.4,170.9L742.7,170.8L743,170.3L743.3,169.4L743.6,169.1L743.9,169.1L744.3,168.8L744.6,168.5L744.9,168.5L745.2,168.1L745.5,168L745.8,167.8L746.1,166.9L746.4,166.3L746.7,166.4L747,166L747.3,165.2L747.6,164.7L747.9,164.2L748.2,163.9L748.5,163.9L748.8,163.7L749.1,163.4L749.4,163.2L749.7,162.8L750,162.3L750.3,161.8L750.6,161.7L750.9,161.6L751.2,161.3L751.5,161L751.8,160.9L752.1,160.6L752.4,160.1L752.7,159.9L753,159.6L753.4,158.9L753.7,158L754,157.7L754.3,157.8L754.6,157.5L754.9,156.8L755.2,156.9L755.5,156.9L755.8,156.6L756.1,156.1L756.4,155.7L756.7,155.3L757,155.1L757.3,155.2L757.6,155.1L757.9,154.7L758.2,154.1L758.5,154.1L758.8,153.9L759.1,153.2L759.4,153.1L759.7,153.4L760,153.4L760.3,153.2L760.6,152.7L760.9,152.3L761.2,152.2L761.5,152.1L761.8,151.9L762.1,151.5L762.5,150.8L762.8,150.6L763.1,151L763.4,150.8L763.7,150.3L764,150.1L764.3,150.1L764.6,150L764.9,149.6L765.2,149.1L765.5,148.9L765.8,148.8L766.1,148.6L766.4,148.7L766.7,148.7L767,148.1L767.3,147.7L767.6,147.5L767.9,147L768.2,146.9L768.5,147.4L768.8,147.2L769.1,146.2L769.4,146L769.7,146.7L770,146.9L770.3,146.7L770.6,146.6L770.9,146.5L771.2,146.2L771.6,146.2L771.9,145.9L772.2,145.3L772.5,145.2L772.8,145L773.1,144.5L773.4,144.4L773.7,144.6L774,144.6L774.3,144.3L774.6,143.6L774.9,143.8L775.2,144.2L775.5,143.9L775.8,143.4L776.1,143L776.4,142.5L776.7,142.7L777,143.3L777.3,143.5L777.6,143.5L777.9,143.1L778.2,142.3L778.5,141.8L778.8,142.6L779.1,143.5L779.4,143.1L779.7,142.7L780,142.9L780.3,142.9L780.7,142.4L781,142.1L781.3,142.2L781.6,142.2L781.9,141.8L782.2,141.9L782.5,142.3L782.8,142.4L783.1,142L783.4,141.7L783.7,142L784,141.6L784.3,141.2L784.6,141.3L784.9,141.4L785.2,141.3L785.5,140.6L785.8,140.4L786.1,141.1L786.4,141.8L786.7,141.5L787,140.4L787.3,140L787.6,140.1L787.9,138.4L788.2,138.8L788.5,138.9L788.8,138.6L789.1,138.8L789.4,138.9L789.8,138.2L790.1,138.1L790.4,138.9L790.7,139.1L791,138.7L791.3,139L791.6,139.2L791.9,138.4L792.2,138.2L792.5,138L792.8,137.5L793.1,137.9L793.4,138.4L793.7,138.5L794,138.7L794.3,138.5L794.6,138.2L794.9,138.3L795.2,138L795.5,137.3L795.8,137.2L796.1,137.4L796.4,137.5L796.7,137.4L797,137.3L797.3,137.3L797.6,137.4L797.9,138L798.2,138.5L798.5,138.5L798.9,138.2L799.2,137.4L799.5,137.3L799.8,137.8L800.1,138L800.4,138.1L800.7,138.4L801,138.4L801.3,138.4L801.6,138.5L801.9,138.1L802.2,137.9L802.5,138.3L802.8,138.6L803.1,138.2L803.4,137.6L803.7,137.7L804,137.3L804.3,137.3L804.6,138.1L804.9,138.2L805.2,137.3L805.5,137.1L805.8,137.9L806.1,138L806.4,137.4L806.7,137.1L807,137.1L807.3,137.6L807.6,138.1L808,137.9L808.3,137.5L808.6,138.3L808.9,139.1L809.2,138.5L809.5,137.6L809.8,137.3L810.1,137.7L810.4,138L810.7,137.4L811,137.2L811.3,137.5L811.6,137.6" stroke="#00ff00" stroke-width="2"/>
<path d="M547.3,275L547.4,275L547.5,275L547.6,275L547.7,275L547.8,274.6L547.9,274.1L548,273.7L548.1,273.2L548.2,272.8L548.3,272.3L548.4,271.9L548.5,271.4L548.6,271L548.7,270.5L548.8,270.1L548.9,269.6L549,269.2L549.1,269.3L549.2,269.8L549.3,270.2L549.4,270.7L549.5,271.1L549.6,271.6L549.7,272L549.8,272.5L549.9,272.9L550,273.4L550.1,273.8L550.2,274.3L550.3,274.7L550.4,275L550.5,275L550.6,275L550.7,275L550.8,275L550.9,275L551,275L551.1,275L551.2,275L551.3,275L551.4,275L551.5,275L551.6,275L551.7,275L551.8,275L551.9,275L552,275L552.1,275L552.2,275L552.3,275L552.4,275L552.5,275L552.6,275L552.7,275L552.8,275L552.9,275L553,275L553.1,274.4L553.2,273.8L553.3,273.2L553.4,272.6L553.5,271.9L553.6,271.3L553.7,270.7L553.8,270.1L553.9,269.5L554,268.9L554.1,268.3L554.2,267.7L554.3,267.5L554.4,268.1L554.5,268.7L554.6,269.3L554.7,269.9L554.8,270.5L554.9,271.1L555,271.7L555.1,272.4L555.2,273L555.3,273.6L555.4,274.2L555.5,274.8L555.6,275L555.7,275L555.8,275L555.9,275L556,274.9L556.1,274.8L556.2,274.7L556.3,274.6L556.4,274.4L556.5,274.3L556.6,274.2L556.7,274.1L556.8,274L556.9,273.8L557,273.8L557.1,273.9L557.2,273.9L557.3,274L557.4,274L557.5,274.1L557.6,274.1L557.7,274.2L557.8,274.2L557.9,274.2L558,274.2L558.1,274.1L558.2,274.1L558.3,274L558.4,273.9L558.5,273.8L558.6,273.8L558.7,273.7L558.8,273.6L558.9,273.5L559,273.6L559.1,273.6L559.2,273.7L559.3,273.8L559.4,273.9L559.5,273.9L559.6,274L559.7,274.1L559.8,274.2L559.9,274.2L560,274.3L560.1,274.4L560.2,274.5L560.3,274.5L560.4,274.6L560.5,274.7L560.6,274.8L560.7,274.8L560.8,274.9L560.9,275L561,275L561.1,275L561.2,275L561.3,275L561.4,275L561.4,274.9L561.5,274.7L561.6,274.6L561.7,274.4L561.8,274.2L561.9,274.1L562,273.9L562.1,273.8L562.2,273.6L562.3,273.4L562.4,273.3L562.5,273.1L562.6,273L562.7,272.8L562.8,272.6L562.9,272.5L563,272.3L563.1,272.1L563.2,272L563.3,271.8L563.4,271.7L563.5,271.5L563.6,271.3L563.7,271.2L563.8,271L563.9,270.9L564,270.7L564.1,270.5L564.2,270.5L564.3,270.5L564.4,270.5L564.5,270.4L564.6,270.4L564.7,270.4L564.8,270.4L564.9,270.4L565,270.3L565.1,270.3L565.2,270.3L565.3,270.3L565.4,270.3L565.5,270.2L565.6,270.2L565.7,270.2L565.8,270.1L565.9,270.1L566,270.1L566.1,270.1L566.2,270.1L566.3,270.1L566.4,270L566.5,270L566.6,269.9L566.7,270L566.8,270L566.9,270L567,269.9L567.1,269.8L567.2,269.8L567.3,269.8L567.4,269.8L567.5,269.7L567.6,269.8L567.7,269.8L567.8,269.8L567.9,269.8L568,269.7L568.1,269.7L568.2,269.6L568.3,269.6L568.4,269.5L568.5,269.5L568.6,269.6L568.7,269.6L568.8,269.5L568.9,269.5L569,269.5L569.2,269.4L569.5,269.3L569.8,269.3L570.1,269.3L570.4,269.2L570.7,269.1L571,269L571.3,269L571.7,268.9L572,268.9L572.3,268.8L572.6,268.7L572.9,268.6L573.2,268.6L573.5,268.7L573.8,268.5L574.1,268.4L574.4,268.2L574.7,268.2L575,268.2L575.3,268.2L575.6,268L575.9,267.9L576.2,267.9L576.5,267.9L576.8,267.9L577.1,267.7L577.4,267.5L577.7,267.5L578,267.5L578.3,267.4L578.6,267.4L578.9,267.3L579.2,267.3L579.5,267.3L579.8,267.1L580.1,267L580.4,267L580.8,266.9L581.1,267L581.4,266.9L581.7,266.8L582,266.8L582.3,266.8L582.6,266.7L582.9,266.6L583.2,266.6L583.5,266.6L583.8,266.4L584.1,266.3L584.4,266.1L584.7,266L585,266.1L585.3,266L585.6,265.9L585.9,265.8L586.2,265.8L586.5,265.6L586.8,265.7L587.1,265.7L587.4,265.6L587.7,265.5L588,265.4L588.3,265.4L588.6,265.4L588.9,265.2L589.2,265.1L589.5,265.1L589.9,265L590.2,264.9L590.5,265L590.8,264.9L591.1,264.7L591.4,264.8L591.7,264.8L592,264.6L592.3,264.4L592.6,264.4L592.9,264.4L593.2,264.2L593.5,264.2L593.8,264.1L594.1,263.9L594.4,263.9L594.7,264L595,264L595.3,263.9L595.6,263.9L595.9,263.8L596.2,263.5L596.5,263.3L596.8,263.4L597.1,263.4L597.4,263.2L597.7,263L598,263L598.3,263.2L598.6,263.2L599,263.2L599.3,263.3L599.6,263.2L599.9,263L600.2,262.9L600.5,262.8L600.8,262.6L601.1,262.4L601.4,262.3L601.7,262.3L602,262.3L602.3,262.4L602.6,262.3L602.9,262.2L603.2,262.2L603.5,262.2L603.8,262.1L604.1,261.9L604.4,261.7L604.7,261.8L605,261.8L605.3,261.8L605.6,261.8L605.9,261.7L606.2,261.3L606.5,261.1L606.8,261.2L607.1,261.3L607.4,261.2L607.7,261.1L608.1,261L608.4,260.9L608.7,260.9L609,260.8L609.3,260.9L609.6,260.9L609.9,261L610.2,260.9L610.5,260.8L610.8,260.7L611.1,260.6L611.4,260.4L611.7,260.3L612,260.4L612.3,260.4L612.6,260.2L612.9,259.9L613.2,259.7L613.5,259.7L613.8,259.7L614.1,259.7L614.4,259.7L614.7,259.6L615,259.8L615.3,259.8L615.6,259.2L615.9,259.1L616.2,259.4L616.5,259.3L616.8,259.2L617.2,259.2L617.5,259.3L617.8,259.2L618.1,258.9L618.4,258.7L618.7,258.6L619,258.5L619.3,258.4L619.6,258.5L619.9,258.7L620.2,258.8L620.5,258.6L620.8,258.3L621.1,258.3L621.4,258.2L621.7,258.2L622,258.3L622.3,258.2L622.6,258.1L622.9,258L623.2,257.7L623.5,257.7L623.8,257.8L624.1,257.8L624.4,257.6L624.7,257.4L625,257.1L625.3,256.8L625.6,257L625.9,257.2L626.3,257.3L626.6,257.3L626.9,257.3L627.2,257.3L627.5,257.1L627.8,256.9L628.1,256.7L628.4,256.7L628.7,256.8L629,256.7L629.3,256.3L629.6,256.1L629.9,256L630.2,255.9L630.5,256L630.8,256.1L631.1,255.8L631.4,255.6L631.7,255.9L632,255.7L632.3,255.4L632.6,255.5L632.9,255.5L633.2,255.4L633.5,255.6L633.8,255.6L634.1,255.7L634.4,255.7L634.7,255.5L635,255.4L635.4,255.2L635.7,255.2L636,255.1L636.3,254.7L636.6,254.5L636.9,254.7L637.2,254.8L637.5,254.8L637.8,254.6L638.1,254.7L638.4,254.8L638.7,254.2L639,254L639.3,254.4L639.6,254.3L639.9,254.1L640.2,254L640.5,254L640.8,254.1L641.1,253.9L641.4,253.6L641.7,253.8L642,253.9L642.3,253.8L642.6,253.6L642.9,253.4L643.2,253.5L643.5,253.5L643.8,253.5L644.1,253.3L644.5,253.5L644.8,253.8L645.1,253.5L645.4,253.4L645.7,253.1L646,252.8L646.3,253.1L646.6,253L646.9,252.5L647.2,252.3L647.5,252.2L647.8,252.4L648.1,252.7L648.4,252.4L648.7,251.9L649,251.8L649.3,252.1L649.6,252.2L649.9,252.2L650.2,251.9L650.5,251.5L650.8,251.8L651.1,252.3L651.4,252L651.7,251.4L652,251.3L652.3,251.6L652.6,251.8L652.9,251.8L653.2,252.2L653.6,251.9L653.9,251.3L654.2,251.1L654.5,250.8L654.8,250.4L655.1,250.5L655.4,250.4L655.7,249.9L656,250.1L656.3,250.4L656.6,250.1L656.9,250.2L657.2,250.4L657.5,250.2L657.8,250.4L658.1,250.7L658.4,250.2L658.7,249.7L659,249.9L659.3,250.1L659.6,249.6L659.9,249L660.2,249L660.5,248.9L660.8,248.7L661.1,248.8L661.4,248.2L661.7,247.5L662,248L662.3,247.8L662.7,247.2L663,247.3L663.3,247.4L663.6,246.7L663.9,246.8L664.2,247.8L664.5,247.8L664.8,247.4L665.1,247.3L665.4,247L665.7,246.5L666,246L666.3,245.9L666.6,245.4L666.9,245.1L667.2,245.3L667.5,244.5L667.8,243.7L668.1,244L668.4,244.6L668.7,244.6L669,244.4L669.3,243.6L669.6,243.3L669.9,243.6L670.2,243.2L670.5,242.6L670.8,242.7L671.1,242.9L671.5,243.2L671.8,243.1L672.1,242L672.4,241L672.7,241.5L673,242L673.3,241.8L673.6,241.1L673.9,240.5L674.2,239.9L674.5,239.3L674.8,239.2L675.1,239.2L675.4,239.2L675.7,239.7L676,240.1L676.3,239.8L676.6,239.2L676.9,239.6L677.2,239.6L677.5,238.7L677.8,238.4L678.1,238.5L678.4,238.2L678.7,237.7L679,237.6L679.3,238L679.6,237.7L679.9,236.8L680.2,236.5L680.6,236.7L680.9,236.8L681.2,236.5L681.5,235.6L681.8,235.1L682.1,235.1L682.4,234.3L682.7,234.1L683,234.4L683.3,234.4L683.6,235.1L683.9,235.5L684.2,234.9L684.5,234L684.8,233.6L685.1,233.2L685.4,233.3L685.7,233.4L686,232.9L686.3,232.7L686.6,232.5L686.9,232.2L687.2,232.3L687.5,232.2L687.8,231.6L688.1,230.6L688.4,229.8L688.7,229.8L689,230.3L689.3,230.3L689.7,229.7L690,229.4L690.3,229.2L690.6,228.4L690.9,228.3L691.2,228.3L691.5,227.4L691.8,226.7L692.1,226.4L692.4,226.2L692.7,225.9L693,225.4L693.3,225.1L693.6,225.1L693.9,224.8L694.2,224.7L694.5,225L694.8,225L695.1,224.4L695.4,224L695.7,224L696,223.4L696.3,222.8L696.6,223.1L696.9,223.4L697.2,222.6L697.5,221.9L697.8,221.8L698.1,222L698.4,221.9L698.8,221.1L699.1,220.4L699.4,220.3L699.7,220.3L700,219.7L700.3,219.1L700.6,218.9L700.9,218.9L701.2,218.3L701.5,217.5L701.8,217.7L702.1,217.8L702.4,217.5L702.7,216.9L703,215.9L703.3,215.4L703.6,216L703.9,216L704.2,214.8L704.5,214.1L704.8,213.8L705.1,213.8L705.4,213.9L705.7,213.9L706,213.8L706.3,213.3L706.6,212.5L706.9,211.9L707.2,211.2L707.5,211.2L707.9,211.2L708.2,210.4L708.5,209.7L708.8,209.9L709.1,210L709.4,209.3L709.7,208.7L710,208.8L710.3,208.5L710.6,207.8L710.9,207.6L711.2,207.7L711.5,207.3L711.8,206.9L712.1,206.3L712.4,205.8L712.7,205.2L713,205.2L713.3,205.2L713.6,204.6L713.9,203.9L714.2,203.5L714.5,203.3L714.8,203.3L715.1,203L715.4,202.5L715.7,202.6L716,202.4L716.3,201.5L716.6,201.2L717,201.1L717.3,200.9L717.6,200.7L717.9,200.2L718.2,199.5L718.5,199.2L718.8,199L719.1,198.4L719.4,198.2L719.7,197.8L720,197.1L720.3,196.9L720.6,196.5L720.9,195.8L721.2,195.6L721.5,195.3L721.8,194.6L722.1,194.2L722.4,193.9L722.7,193.7L723,193.3L723.3,192.9L723.6,192.7L723.9,192.2L724.2,191.4L724.5,191.2L724.8,190.8L725.1,190.1L725.4,190.1L725.7,190.1L726.1,189.7L726.4,189.3L726.7,188.6L727,188.1L727.3,188.2L727.6,188L727.9,187.4L728.2,187.1L728.5,186.8L728.8,186.5L729.1,186.4L729.4,185.9L729.7,185.3L730,184.8L730.3,184.4L730.6,184.1L730.9,183.6L731.2,183.2L731.5,183.2L731.8,183L732.1,182.5L732.4,181.8L732.7,181.5L733,180.9L733.3,180.1L733.6,179.5L733.9,179.2L734.2,179.4L734.5,179.2L734.8,178.4L735.2,177.9L735.5,177.5L735.8,177.2L736.1,176.7L736.4,176.3L736.7,176L737,175.7L737.3,175.4L737.6,175.1L737.9,174.6L738.2,174.3L738.5,173.9L738.8,173.4L739.1,173L739.4,172.8L739.7,172.6L740,172.1L740.3,171.4L740.6,171.5L740.9,171.6L741.2,171.2L741.5,170.3L741.8,169.5L742.1,169.3L742.4,169.2L742.7,169.1L743,168.6L743.3,167.8L743.6,167.5L743.9,167.4L744.3,167.1L744.6,166.9L744.9,166.8L745.2,166.4L745.5,166.2L745.8,166.1L746.1,165.2L746.4,164.6L746.7,164.7L747,164.3L747.3,163.5L747.6,163L747.9,162.6L748.2,162.3L748.5,162.3L748.8,162L749.1,161.8L749.4,161.5L749.7,161.2L750,160.7L750.3,160.2L750.6,160L750.9,159.9L751.2,159.6L751.5,159.3L751.8,159.2L752.1,158.9L752.4,158.5L752.7,158.2L753,157.9L753.4,157.3L753.7,156.5L754,156.1L754.3,156.2L754.6,155.9L754.9,155.3L755.2,155.3L755.5,155.3L755.8,154.9L756.1,154.5L756.4,154.1L756.7,153.8L757,153.5L757.3,153.5L757.6,153.5L757.9,153.1L758.2,152.6L758.5,152.5L758.8,152.3L759.1,151.7L759.4,151.5L759.7,151.7L760,151.7L760.3,151.5L760.6,151L760.9,150.7L761.2,150.6L761.5,150.4L761.8,150.2L762.1,149.9L762.5,149.2L762.8,149L763.1,149.4L763.4,149.2L763.7,148.7L764,148.4L764.3,148.4L764.6,148.3L764.9,148L765.2,147.5L765.5,147.3L765.8,147.2L766.1,146.9L766.4,147L766.7,147L767,146.4L767.3,146.1L767.6,145.9L767.9,145.5L768.2,145.4L768.5,145.8L768.8,145.5L769.1,144.7L769.4,144.5L769.7,145.1L770,145.2L770.3,145L770.6,144.9L770.9,144.8L771.2,144.5L771.6,144.5L771.9,144.2L772.2,143.7L772.5,143.6L772.8,143.4L773.1,143L773.4,142.8L773.7,143L774,143L774.3,142.7L774.6,142.1L774.9,142.2L775.2,142.6L775.5,142.3L775.8,141.9L776.1,141.5L776.4,141.1L776.7,141.2L777,141.7L777.3,141.9L777.6,141.9L777.9,141.5L778.2,140.8L778.5,140.4L778.8,141L779.1,141.7L779.4,141.4L779.7,141.1L780,141.3L780.3,141.2L780.7,140.8L781,140.5L781.3,140.6L781.6,140.5L781.9,140.3L782.2,140.3L782.5,140.6L782.8,140.7L783.1,140.4L783.4,140.1L783.7,140.3L784,140L784.3,139.6L784.6,139.7L784.9,139.8L785.2,139.7L785.5,139.2L785.8,138.9L786.1,139.5L786.4,140.1L786.7,139.8L787,138.9L787.3,138.5L787.6,138.7L787.9,136.9L788.2,137.2L788.5,137.3L788.8,137.1L789.1,137.2L789.4,137.3L789.8,136.7L790.1,136.6L790.4,137.3L790.7,137.5L791,137.1L791.3,137.4L791.6,137.5L791.9,136.9L792.2,136.6L792.5,136.5L792.8,136L793.1,136.4L793.4,136.8L793.7,136.9L794,137L794.3,136.9L794.6,136.6L794.9,136.7L795.2,136.5L795.5,135.9L795.8,135.8L796.1,135.9L796.4,136L796.7,135.9L797,135.8L797.3,135.8L797.6,135.9L797.9,136.4L798.2,136.8L798.5,136.9L798.9,136.6L799.2,136L799.5,135.9L799.8,136.3L800.1,136.5L800.4,136.6L800.7,136.8L801,136.8L801.3,136.8L801.6,136.9L801.9,136.6L802.2,136.4L802.5,136.7L802.8,137L803.1,136.6L803.4,136.1L803.7,136.2L804,135.9L804.3,135.9L804.6,136.5L804.9,136.6L805.2,135.9L805.5,135.7L805.8,136.4L806.1,136.4L806.4,136L806.7,135.7L807,135.7L807.3,136.1L807.6,136.5L808,136.4L808.3,136L808.6,136.7L808.9,137.4L809.2,136.9L809.5,136.2L809.8,135.9L810.1,136.3L810.4,136.5L810.7,136L811,135.9L811.3,136.1L811.6,136.2" stroke="#ff9040" stroke-width="2"/>
<path d="M561.4,275L564.1,270.5L672.1,247.3" stroke="#000" stroke-width="1.5" stroke-dasharray="6.2,4.6" fill="none"/>
<path d="M581.9,275L669.8,252.6" stroke="#000" stroke-width="1.5" stroke-dasharray="6.2,4.6" fill="none"/>
<path d="M679.6,242.3L766.4,142" stroke="#000" stroke-width="1.5" stroke-dasharray="4.4,7.3" fill="none"/>
</g>
<g font-size="11.85" fill="#000">
<text x="545.9" y="288.7" text-anchor="middle">0</text>
<text x="611.8" y="288.7" text-anchor="middle">2000</text>
<text x="677.7" y="288.7" text-anchor="middle">4000</text>
<text x="743.6" y="288.7" text-anchor="middle">6000</text>
<text x="809.5" y="288.7" text-anchor="middle">8000</text>
<text x="545.9" y="30.7" text-anchor="middle">0</text>
<text x="599" y="30.7" text-anchor="middle">200</text>
<text x="652.2" y="30.7" text-anchor="middle">400</text>
<text x="705.3" y="30.7" text-anchor="middle">600</text>
<text x="758.5" y="30.7" text-anchor="middle">800</text>
<text x="811.6" y="30.7" text-anchor="middle">1000</text>
<text x="540" y="278.5" text-anchor="end">0</text>
<text x="540" y="219" text-anchor="end">2</text>
<text x="540" y="159.5" text-anchor="end">4</text>
<text x="540" y="100" text-anchor="end">6</text>
<text x="540" y="40.4" text-anchor="end">8</text>
<text x="679" y="15.2" text-anchor="middle">Photon energy (meV)</text>
<text x="679.2" y="301.5" text-anchor="middle">Wave number (cm<tspan dy="-6.9" font-size="7.2">-1</tspan><tspan dy="6.9" dx="1">)</tspan></text>
<text transform="translate(525.0,208.0) rotate(-90)">σ<tspan dy="4.2" dx="0.65" font-size="7">1</tspan><tspan dy="-4.2"> (</tspan><tspan dx="0.5" font-size="8.6">ω</tspan><tspan dx="0.6">) (10</tspan><tspan dy="-7.3" font-size="7">3</tspan><tspan dy="7.3" dx="0.9">Ω</tspan><tspan dy="-7.3" font-size="7">-1</tspan><tspan dy="7.3" dx="0.2"> cm</tspan><tspan dy="-7.3" font-size="7">-1</tspan><tspan dy="7.3" dx="0.6">)</tspan></text>
<text x="550.6" y="51.9" font-size="12.1">(d)</text>
<path d="M583.2,87.3H610.4" stroke="#0000ff" stroke-width="2"/>
<text x="614.3" y="91.8">Data (10 K)</text>
<path d="M583.2,102.5H610.4" stroke="#00ff00" stroke-width="2"/>
<text x="614.3" y="107">Sub. Drude fit 1</text>
<path d="M583.2,117.7H610.4" stroke="#ff9040" stroke-width="2"/>
<text x="614.3" y="122.2">Sub. Drude fit 2</text>
</g>
</svg>
</body></html>
